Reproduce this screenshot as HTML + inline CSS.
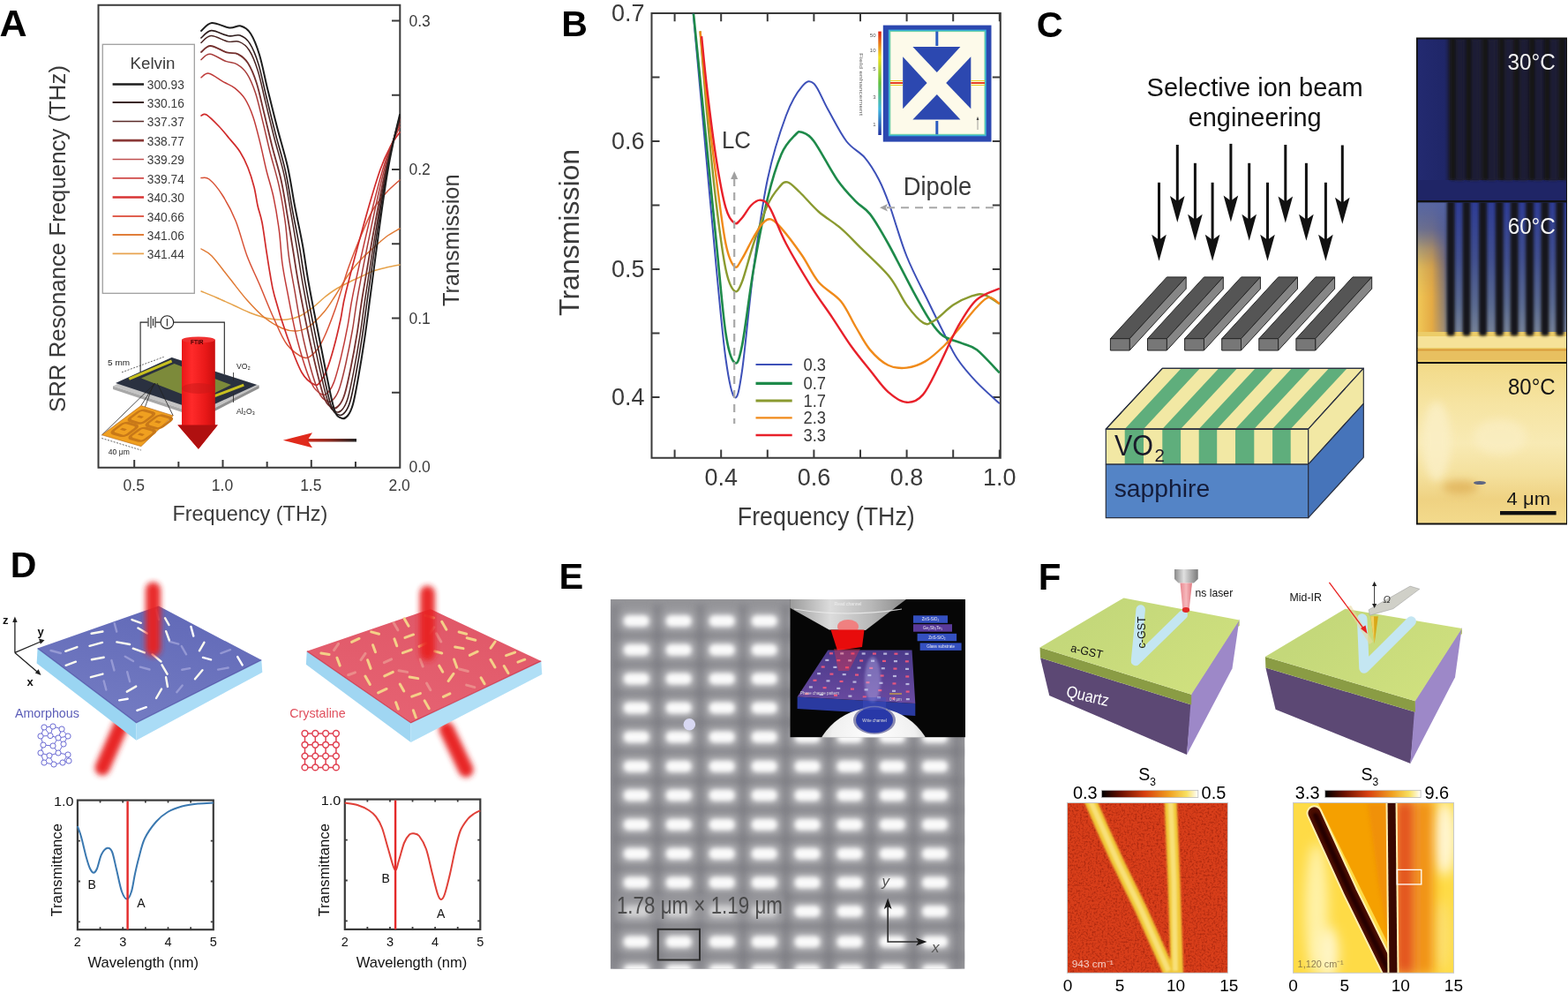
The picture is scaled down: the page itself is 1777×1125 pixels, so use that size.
<!DOCTYPE html><html><head><meta charset="utf-8"><title>Figure</title>
<style>html,body{margin:0;padding:0;background:#fff;}svg{display:block;}text{font-family:"Liberation Sans", Arial, Helvetica, sans-serif;}</style></head><body>
<svg width="1777" height="1125" viewBox="0 0 1777 1125">
<rect width="1777" height="1125" fill="#fff"/>
<text x="-0.5" y="41.2" font-size="43" fill="#000" font-weight="bold" >A</text>
<g stroke="#3a3a3a" stroke-width="2" fill="none">
<path d="M111.5,5.8 H453.3 V529.8 H111.5 Z"/>
<path d="M152.2,529.8 V521"/>
<path d="M202.35,529.8 V523"/>
<path d="M252.5,529.8 V521"/>
<path d="M302.65,529.8 V523"/>
<path d="M352.8,529.8 V521"/>
<path d="M402.95,529.8 V523"/>
<path d="M453.3,444.75 H444"/>
<path d="M453.3,360.5 H444"/>
<path d="M453.3,276.25 H444"/>
<path d="M453.3,192 H444"/>
<path d="M453.3,107.75 H444"/>
<path d="M453.3,23.5 H444"/>
</g>
<text x="151.7" y="556.3" font-size="17.5" fill="#3a3a3a" text-anchor="middle" >0.5</text>
<text x="252" y="556.3" font-size="17.5" fill="#3a3a3a" text-anchor="middle" >1.0</text>
<text x="352.3" y="556.3" font-size="17.5" fill="#3a3a3a" text-anchor="middle" >1.5</text>
<text x="452.6" y="556.3" font-size="17.5" fill="#3a3a3a" text-anchor="middle" >2.0</text>
<text x="463.5" y="535.3" font-size="17.5" fill="#3a3a3a" >0.0</text>
<text x="463.5" y="366.8" font-size="17.5" fill="#3a3a3a" >0.1</text>
<text x="463.5" y="198.3" font-size="17.5" fill="#3a3a3a" >0.2</text>
<text x="463.5" y="29.8" font-size="17.5" fill="#3a3a3a" >0.3</text>
<text x="195.4" y="590.2" font-size="24" fill="#3a3a3a" textLength="176" lengthAdjust="spacingAndGlyphs" >Frequency (THz)</text>
<text transform="translate(74,467) rotate(-90)" font-size="25.5" fill="#3a3a3a" textLength="393" lengthAdjust="spacingAndGlyphs">SRR Resonance Frequency (THz)</text>
<text transform="translate(519.5,347) rotate(-90)" font-size="25" fill="#3a3a3a" textLength="149.5" lengthAdjust="spacingAndGlyphs">Transmission</text>
<rect x="116.3" y="50.3" width="104" height="282" fill="#fff" stroke="#a0a0a0" stroke-width="1.3"/>
<text x="147.5" y="78.3" font-size="17.5" fill="#3a3a3a" textLength="51" lengthAdjust="spacingAndGlyphs" >Kelvin</text>
<path d="M127.6,95.5 H163" stroke="#1e1e1e" stroke-width="2.4"/>
<text x="166.8" y="101.1" font-size="15" fill="#3a3a3a" textLength="42" lengthAdjust="spacingAndGlyphs" >300.93</text>
<path d="M127.6,116.1 H163" stroke="#3a1f1e" stroke-width="2"/>
<text x="166.8" y="121.7" font-size="15" fill="#3a3a3a" textLength="42" lengthAdjust="spacingAndGlyphs" >330.16</text>
<path d="M127.6,137.5 H163" stroke="#5a2a28" stroke-width="1.6"/>
<text x="166.8" y="143.1" font-size="15" fill="#3a3a3a" textLength="42" lengthAdjust="spacingAndGlyphs" >337.37</text>
<path d="M127.6,159.1 H163" stroke="#8a3836" stroke-width="2.6"/>
<text x="166.8" y="164.7" font-size="15" fill="#3a3a3a" textLength="42" lengthAdjust="spacingAndGlyphs" >338.77</text>
<path d="M127.6,180.5 H163" stroke="#c05050" stroke-width="1.6"/>
<text x="166.8" y="186.1" font-size="15" fill="#3a3a3a" textLength="42" lengthAdjust="spacingAndGlyphs" >339.29</text>
<path d="M127.6,201.9 H163" stroke="#d04a48" stroke-width="1.8"/>
<text x="166.8" y="207.5" font-size="15" fill="#3a3a3a" textLength="42" lengthAdjust="spacingAndGlyphs" >339.74</text>
<path d="M127.6,223.5 H163" stroke="#d83434" stroke-width="2.6"/>
<text x="166.8" y="229.1" font-size="15" fill="#3a3a3a" textLength="42" lengthAdjust="spacingAndGlyphs" >340.30</text>
<path d="M127.6,245 H163" stroke="#e06050" stroke-width="2"/>
<text x="166.8" y="250.6" font-size="15" fill="#3a3a3a" textLength="42" lengthAdjust="spacingAndGlyphs" >340.66</text>
<path d="M127.6,266 H163" stroke="#e07e3a" stroke-width="1.8"/>
<text x="166.8" y="271.6" font-size="15" fill="#3a3a3a" textLength="42" lengthAdjust="spacingAndGlyphs" >341.06</text>
<path d="M127.6,287.4 H163" stroke="#e8a450" stroke-width="1.6"/>
<text x="166.8" y="293" font-size="15" fill="#3a3a3a" textLength="42" lengthAdjust="spacingAndGlyphs" >341.44</text>
<g fill="none" stroke-linejoin="round" stroke-linecap="round">
<path d="M228,330 C230.83,331.17 238.83,334.33 245,337 C251.17,339.67 258.33,343 265,346 C271.67,349 278.33,352.5 285,355 C291.67,357.5 298.33,359.83 305,361 C311.67,362.17 319.17,362.5 325,362 C330.83,361.5 335,360.33 340,358 C345,355.67 350.4,351.5 355,348 C359.6,344.5 363.43,340.33 367.6,337 C371.77,333.67 375.43,330.83 380,328 C384.57,325.17 390,322.5 395,320 C400,317.5 405.33,315.17 410,313 C414.67,310.83 418.33,308.67 423,307 C427.67,305.33 433,304.17 438,303 C443,301.83 450.5,300.5 453,300" stroke="#e6a24a" stroke-width="1.5"/>
<path d="M228,282 C230,283.33 234.67,284.5 240,290 C245.33,295.5 253.33,306.67 260,315 C266.67,323.33 273.33,332.5 280,340 C286.67,347.5 293.33,354.67 300,360 C306.67,365.33 314,369.5 320,372 C326,374.5 331,375.33 336,375 C341,374.67 344.73,373.67 350,370 C355.27,366.33 362.6,358.83 367.6,353 C372.6,347.17 375.43,342 380,335 C384.57,328 390,318 395,311 C400,304 405.33,298 410,293 C414.67,288 418.33,285.17 423,281 C427.67,276.83 433,271.67 438,268 C443,264.33 450.5,260.5 453,259" stroke="#e07a34" stroke-width="1.5"/>
<path d="M228,201.6 C229.5,201.83 233,199.77 237,203 C241,206.23 247,213.17 252,221 C257,228.83 262.33,238.5 267,250 C271.67,261.5 275.5,278 280,290 C284.5,302 289,310.33 294,322 C299,333.67 304.83,348.67 310,360 C315.17,371.33 319.33,382.5 325,390 C330.67,397.5 338.83,403.33 344,405 C349.17,406.67 352.33,403.33 356,400 C359.67,396.67 362,393.33 366,385 C370,376.67 375.17,363.67 380,350 C384.83,336.33 390,317.17 395,303 C400,288.83 405.33,276 410,265 C414.67,254 418.33,244.83 423,237 C427.67,229.17 433,223.5 438,218 C443,212.5 450.5,206.33 453,204" stroke="#d85236" stroke-width="1.5"/>
<path d="M228,131 C229,130.83 230.67,128 234,130 C237.33,132 243.67,138.5 248,143 C252.33,147.5 256,152.17 260,157 C264,161.83 268.5,166.5 272,172 C275.5,177.5 278.33,183.33 281,190 C283.67,196.67 286.17,204.83 288,212 C289.83,219.17 290.5,226.33 292,233 C293.5,239.67 295.33,243.33 297,252 C298.67,260.67 300.5,275.33 302,285 C303.5,294.67 304.5,301.67 306,310 C307.5,318.33 307.83,323.33 311,335 C314.17,346.67 319.83,365.5 325,380 C330.17,394.5 336.67,412.67 342,422 C347.33,431.33 353.33,434.5 357,436 C360.67,437.5 361.83,433.67 364,431 C366.17,428.33 367.67,426 370,420 C372.33,414 375.33,404.67 378,395 C380.67,385.33 383.67,372.67 386,362 C388.33,351.33 387.33,350 392,331 C396.67,312 407.5,271.17 414,248 C420.5,224.83 426.17,205.83 431,192 C435.83,178.17 439.33,172 443,165 C446.67,158 451.33,152.5 453,150" stroke="#d02a2a" stroke-width="1.7"/>
<path d="M228,87.8 C229.45,87.03 232.47,82.36 236.7,83.2 C240.93,84.04 248.54,90.09 253.4,92.83 C258.26,95.56 261.85,96.48 265.85,99.62 C269.85,102.77 273.9,106.24 277.4,111.7 C280.9,117.16 283.96,124.08 286.85,132.4 C289.74,140.72 292.24,151.51 294.75,161.6 C297.26,171.69 299.35,182.61 301.9,192.95 C304.45,203.29 307.63,212.21 310.05,223.65 C312.47,235.09 314.76,249.21 316.4,261.6 C318.04,273.99 318.34,286.58 319.88,298 C321.41,309.42 322.82,315.76 325.62,330.12 C328.43,344.49 332.17,366.94 336.7,384.2 C341.23,401.46 347.93,423.18 352.8,433.7 C357.67,444.22 362.57,445.76 365.94,447.31 C369.31,448.86 370.82,445.65 373,443 C375.18,440.35 376.77,437.75 379,431.4 C381.23,425.05 383.88,415.32 386.4,404.9 C388.92,394.48 391.77,381.12 394.1,368.9 C396.43,356.68 396.23,351.65 400.4,331.6 C404.57,311.55 413.6,271.67 419.1,248.6 C424.6,225.53 429.27,207.38 433.4,193.2 C437.53,179.02 440.63,171.7 443.9,163.5 C447.17,155.3 451.48,147.25 453,144" stroke="#c03a38" stroke-width="1.5"/>
<path d="M228,67.64 C229.66,66.59 233.31,61.06 237.96,61.36 C242.61,61.66 250.82,67.5 255.92,69.41 C261.02,71.32 264.58,70.49 268.58,72.85 C272.58,75.21 276.42,78.11 279.92,83.56 C283.42,89.01 286.58,96.43 289.58,105.52 C292.58,114.61 295.08,126.62 297.9,138.08 C300.72,149.54 303.48,162.2 306.52,174.26 C309.56,186.32 313.37,197.68 316.14,210.42 C318.91,223.16 321.23,237.18 323.12,250.68 C325.01,264.18 325.71,278.64 327.46,291.44 C329.21,304.24 330.78,311.53 333.62,327.46 C336.46,343.39 340.1,367.99 344.5,387 C348.9,406.01 355.43,430.19 360,441.5 C364.57,452.81 368.73,453.27 371.9,454.85 C375.07,456.43 376.82,453.64 379,451 C381.18,448.36 382.83,445.58 385,439 C387.17,432.42 389.58,422.42 392,411.5 C394.42,400.58 397.17,386.75 399.5,373.5 C401.83,360.25 402.17,352.75 406,332 C409.83,311.25 417.67,272 422.5,249 C427.33,226 431.33,208.42 435,194 C438.67,179.58 441.5,171.5 444.5,162.5 C447.5,153.5 451.58,143.75 453,140" stroke="#a83c3a" stroke-width="1.5"/>
<path d="M228,59 C229.75,57.83 233.67,51.94 238.5,52 C243.33,52.06 251.79,57.81 257,59.38 C262.21,60.94 265.75,59.35 269.75,61.38 C273.75,63.4 277.5,66.06 281,71.5 C284.5,76.94 287.71,84.58 290.75,94 C293.79,103.42 296.29,115.96 299.25,128 C302.21,140.04 305.25,153.46 308.5,166.25 C311.75,179.04 315.83,191.46 318.75,204.75 C321.67,218.04 323.69,232.3 326,246 C328.31,259.7 330.46,273.69 332.64,286.96 C334.82,300.23 335.87,308.52 339.08,325.64 C342.29,342.76 347.28,369.12 351.91,389.66 C356.54,410.21 362.56,436.85 366.84,448.91 C371.12,460.97 374.59,460.4 377.56,462.01 C380.54,463.63 382.51,461.23 384.7,458.6 C386.89,455.97 388.6,453.03 390.7,446.22 C392.8,439.42 395,429.16 397.32,417.77 C399.64,406.38 402.3,392.1 404.63,377.87 C406.96,363.64 407.8,353.8 411.32,332.38 C414.84,310.96 421.53,272.32 425.73,249.38 C429.93,226.44 433.3,209.4 436.52,194.76 C439.74,180.12 442.32,171.31 445.07,161.55 C447.82,151.79 451.68,140.42 453,136.2" stroke="#74302e" stroke-width="1.8"/>
<path d="M228,48.44 C229.86,47.13 234.11,40.78 239.16,40.56 C244.21,40.34 252.98,45.98 258.32,47.11 C263.66,48.24 267.18,45.74 271.18,47.35 C275.18,48.96 278.82,51.33 282.32,56.76 C285.82,62.19 289.08,70.1 292.18,79.92 C295.28,89.74 297.78,102.92 300.9,115.68 C304.02,128.44 307.41,142.77 310.92,156.46 C314.43,170.15 318.84,183.85 321.94,197.82 C325.04,211.79 327.03,226.04 329.52,240.28 C332.01,254.52 334.55,269.3 336.89,283.28 C339.24,297.26 340.28,306.13 343.56,324.14 C346.85,342.15 351.99,369.77 356.59,391.34 C361.19,412.91 367.07,441.06 371.16,453.59 C375.25,466.12 378.28,464.9 381.14,466.54 C383.99,468.17 386.11,466.03 388.3,463.4 C390.49,460.77 392.24,457.72 394.3,450.78 C396.36,443.83 398.42,433.42 400.68,421.73 C402.94,410.04 405.54,395.48 407.87,380.63 C410.2,365.78 411.36,354.45 414.68,332.62 C418,310.79 423.97,272.52 427.77,249.62 C431.57,226.72 434.54,210.02 437.48,195.24 C440.42,180.46 442.84,171.19 445.43,160.95 C448.02,150.71 451.74,138.33 453,133.8" stroke="#4a2422" stroke-width="1.5"/>
<path d="M228,42.97 C229.92,41.58 234.33,35 239.5,34.63 C244.67,34.26 253.6,39.85 259,40.75 C264.41,41.66 267.92,38.69 271.92,40.08 C275.92,41.48 279.5,43.7 283,49.12 C286.5,54.55 289.8,62.59 292.92,72.62 C296.05,82.65 298.55,96.17 301.75,109.3 C304.96,122.42 308.53,137.23 312.17,151.39 C315.81,165.54 320.4,179.91 323.59,194.23 C326.79,208.55 328.67,222.87 331.34,237.32 C334.01,251.77 337.1,266.62 339.61,280.93 C342.13,295.24 343.02,304.58 346.43,323.19 C349.85,341.8 355.44,370.28 360.1,392.6 C364.76,414.92 370.45,444.21 374.4,457.1 C378.35,469.99 381.05,468.28 383.82,469.93 C386.59,471.58 388.8,469.62 391,467 C393.2,464.38 394.97,461.25 397,454.2 C399.03,447.15 400.98,436.62 403.2,424.7 C405.42,412.78 407.97,398.02 410.3,382.7 C412.63,367.38 414.03,354.95 417.2,332.8 C420.37,310.65 425.8,272.67 429.3,249.8 C432.8,226.93 435.47,210.48 438.2,195.6 C440.93,180.72 443.23,171.1 445.7,160.5 C448.17,149.9 451.78,136.75 453,132" stroke="#2e1c1c" stroke-width="1.6"/>
<path d="M228,35 C230,33.5 234.67,26.58 240,26 C245.33,25.42 254.5,30.92 260,31.5 C265.5,32.08 269,28.42 273,29.5 C277,30.58 280.5,32.58 284,38 C287.5,43.42 290.83,51.67 294,62 C297.17,72.33 299.67,86.33 303,100 C306.33,113.67 310.17,129.17 314,144 C317.83,158.83 322.67,174.17 326,189 C329.33,203.83 331.17,218.17 334,233 C336.83,247.83 340.33,263.17 343,278 C345.67,292.83 346.5,302.67 350,322 C353.5,341.33 359.33,370.83 364,394 C368.67,417.17 374.2,447.72 378,461 C381.8,474.28 384.13,472.03 386.8,473.7 C389.47,475.37 391.8,473.62 394,471 C396.2,468.38 398,465.17 400,458 C402,450.83 403.83,440.17 406,428 C408.17,415.83 410.67,400.83 413,385 C415.33,369.17 417,355.5 420,333 C423,310.5 427.83,272.83 431,250 C434.17,227.17 436.5,211 439,196 C441.5,181 443.67,171 446,160 C448.33,149 451.83,135 453,130" stroke="#1e1e1e" stroke-width="2"/>
</g>
<defs><linearGradient id="ga" x1="0" x2="1"><stop offset="0" stop-color="#d02a1c"/><stop offset="0.5" stop-color="#8a2a20"/><stop offset="1" stop-color="#222"/></linearGradient></defs>
<path d="M345,496.9 H404 V500.6 H345 Z" fill="url(#ga)"/>
<path d="M320.8,498.7 L354,490.3 L348.5,498.7 L354,507.3 Z" fill="#e02a1c"/>
<g stroke="#222" stroke-width="1.1" fill="none">
<path d="M159.1,421.8 V365.1 H167.4 M176.5,365.1 H181.9 M196.9,365.1 H254.3 V439.2"/>
<path d="M168,360 V370 M171,358 V372 M173.5,361 V369 M176,359 V371"/>
<circle cx="189.4" cy="365.1" r="7.3"/>
<path d="M189.4,361 V369.5"/>
</g>
<polygon points="128,437.5 194.6,405 293.6,436.6 227.4,470.3" fill="#c4c4c4"/>
<polygon points="128,437.5 227.4,470.3 227.4,474 128,441" fill="#a8a8a8"/>
<polygon points="227.4,470.3 293.6,436.6 293.6,440 227.4,474" fill="#909090"/>
<polygon points="131,434 194.6,405 291,436 226.4,465.5" fill="#2a3140"/>
<polygon points="160,428.5 197.5,412 262,436 225.5,454" fill="#7c8a3a"/>
<path d="M146.3,429.4 L194.6,409 M227.9,454.3 L276.3,436.2" stroke="#c8c020" stroke-width="3"/>
<g stroke="#222" stroke-width="0.8"><path d="M176,434 L115.5,492.8 M176,434 L159.9,459.6 M178,434 L196.2,470.9 M174,435 L160,473"/></g>
<polygon points="115.5,492.8 159.9,459.6 196.2,470.9 159.9,505.7" fill="#f0a020" stroke="#b06010" stroke-width="0.6"/>
<g transform="matrix(44.4,-33.2,44.4,12.9,115.5,492.8)">
<rect x="0.12" y="0.1" width="0.36" height="0.36" rx="0.09" fill="none" stroke="#c87818" stroke-width="0.07"/>
<rect x="0.26" y="0.2" width="0.06" height="0.12" fill="#c87818"/>
<rect x="0.55" y="0.1" width="0.36" height="0.36" rx="0.09" fill="none" stroke="#c87818" stroke-width="0.07"/>
<rect x="0.69" y="0.2" width="0.06" height="0.12" fill="#c87818"/>
<rect x="0.12" y="0.55" width="0.36" height="0.36" rx="0.09" fill="none" stroke="#c87818" stroke-width="0.07"/>
<rect x="0.26" y="0.65" width="0.06" height="0.12" fill="#c87818"/>
<rect x="0.55" y="0.55" width="0.36" height="0.36" rx="0.09" fill="none" stroke="#c87818" stroke-width="0.07"/>
<rect x="0.69" y="0.65" width="0.06" height="0.12" fill="#c87818"/>
</g>
<defs><linearGradient id="gbeam" x1="0" x2="1"><stop offset="0" stop-color="#e01010"/><stop offset="0.35" stop-color="#ff2a2a"/><stop offset="0.7" stop-color="#e81818"/><stop offset="1" stop-color="#c00c0c"/></linearGradient></defs>
<path d="M206,385 V481.5 H201.4 L224.9,508.7 L246.8,481.5 H243.8 V385 Z" fill="url(#gbeam)"/>
<path d="M201.4,481.5 L224.9,508.7 L246.8,481.5 Z" fill="#b01010"/>
<ellipse cx="224.9" cy="385" rx="18.9" ry="3.5" fill="#f03030"/>
<ellipse cx="224.9" cy="440" rx="18.9" ry="6" fill="#c81818" opacity="0.5"/>
<text x="216" y="389.5" font-size="6.5" fill="#400" font-weight="bold" >FTIR</text>
<text x="122.1" y="413.5" font-size="8.5" fill="#222" textLength="25" lengthAdjust="spacingAndGlyphs" >5 mm</text>
<text x="122.8" y="514.8" font-size="8.5" fill="#222" textLength="24" lengthAdjust="spacingAndGlyphs" >40 μm</text>
<text x="268" y="418" font-size="8.5" fill="#222" textLength="15.8" lengthAdjust="spacingAndGlyphs" >VO₂</text>
<text x="268" y="469.4" font-size="8.5" fill="#222" textLength="21" lengthAdjust="spacingAndGlyphs" >Al₂O₃</text>
<path d="M264.5,422 V431 M264.5,446 V456" stroke="#222" stroke-width="0.8"/>
<path d="M138,421.8 L185.6,404.4 M115.3,496.5 L159.9,510" stroke="#222" stroke-width="0.7" stroke-dasharray="2,1.5"/>
<text x="636.3" y="40.8" font-size="41" fill="#000" font-weight="bold" >B</text>
<g stroke="#3a3a3a" stroke-width="2" fill="none">
<path d="M738.5,15 H1133.8 V518.7 H738.5 Z"/>
<path d="M817.2,518.7 V509.5 M817.2,15 V24.2"/>
<path d="M869.8,518.7 V509.5 M869.8,15 V24.2"/>
<path d="M922.4,518.7 V509.5 M922.4,15 V24.2"/>
<path d="M975,518.7 V509.5 M975,15 V24.2"/>
<path d="M1027.6,518.7 V509.5 M1027.6,15 V24.2"/>
<path d="M1080.2,518.7 V509.5 M1080.2,15 V24.2"/>
<path d="M1132.8,518.7 V509.5 M1132.8,15 V24.2"/>
<path d="M764.6,518.7 V509.5 M764.6,15 V24.2"/>
<path d="M738.5,450 H747.5 M1133.8,450 H1124.8"/>
<path d="M738.5,377.5 H747.5 M1133.8,377.5 H1124.8"/>
<path d="M738.5,305 H747.5 M1133.8,305 H1124.8"/>
<path d="M738.5,232.5 H747.5 M1133.8,232.5 H1124.8"/>
<path d="M738.5,160 H747.5 M1133.8,160 H1124.8"/>
<path d="M738.5,87.5 H747.5 M1133.8,87.5 H1124.8"/>
</g>
<text x="730.5" y="458.6" font-size="27.5" fill="#3a3a3a" text-anchor="end" textLength="37.5" lengthAdjust="spacingAndGlyphs" >0.4</text>
<text x="730.5" y="313.6" font-size="27.5" fill="#3a3a3a" text-anchor="end" textLength="37.5" lengthAdjust="spacingAndGlyphs" >0.5</text>
<text x="730.5" y="168.6" font-size="27.5" fill="#3a3a3a" text-anchor="end" textLength="37.5" lengthAdjust="spacingAndGlyphs" >0.6</text>
<text x="730.5" y="23.6" font-size="27.5" fill="#3a3a3a" text-anchor="end" textLength="37.5" lengthAdjust="spacingAndGlyphs" >0.7</text>
<text x="817.2" y="549.6" font-size="27.5" fill="#3a3a3a" text-anchor="middle" textLength="37.5" lengthAdjust="spacingAndGlyphs" >0.4</text>
<text x="922.4" y="549.6" font-size="27.5" fill="#3a3a3a" text-anchor="middle" textLength="37.5" lengthAdjust="spacingAndGlyphs" >0.6</text>
<text x="1027.6" y="549.6" font-size="27.5" fill="#3a3a3a" text-anchor="middle" textLength="37.5" lengthAdjust="spacingAndGlyphs" >0.8</text>
<text x="1132.8" y="549.6" font-size="27.5" fill="#3a3a3a" text-anchor="middle" textLength="37.5" lengthAdjust="spacingAndGlyphs" >1.0</text>
<text x="835.8" y="595.4" font-size="29" fill="#3a3a3a" textLength="201" lengthAdjust="spacingAndGlyphs" >Frequency (THz)</text>
<text transform="translate(656.4,357.9) rotate(-90)" font-size="31" fill="#3a3a3a" textLength="189" lengthAdjust="spacingAndGlyphs">Transmission</text>
<defs><clipPath id="cb"><rect x="739" y="15.5" width="394" height="503"/></clipPath></defs>
<g fill="none" stroke-linejoin="round" clip-path="url(#cb)">
<path d="M783.01,-14 C785.2,10.17 791.34,77.83 796.16,131 C800.98,184.17 807.56,259.08 811.94,305 C816.32,350.92 819.04,382.33 822.46,406.5 C825.88,430.67 829.39,447.58 832.45,450 C835.52,452.42 837.28,445.17 840.87,421 C844.46,396.83 849.2,341.25 854.02,305 C858.84,268.75 863.66,232.5 869.8,203.5 C875.94,174.5 884.27,148.64 890.84,131 C897.41,113.36 903.99,103.69 909.25,97.65 C914.51,91.61 917.58,90.4 922.4,94.75 C927.22,99.1 932.04,112.87 938.18,123.75 C944.32,134.62 952.21,150.82 959.22,160 C966.23,169.18 974.12,171.6 980.26,178.85 C986.4,186.1 991.39,194.56 996.04,203.5 C1000.69,212.44 1002.88,218 1008.14,232.5 C1013.4,247 1020.32,272.37 1027.6,290.5 C1034.88,308.62 1044.78,326.75 1051.8,341.25 C1058.81,355.75 1064.16,366.62 1069.68,377.5 C1075.2,388.37 1078.8,397.32 1084.93,406.5 C1091.07,415.68 1098.52,424.14 1106.5,432.6 C1114.48,441.06 1128.42,453.14 1132.8,457.25" stroke="#3d50b8" stroke-width="2"/>
<path d="M783.01,-14 C785.2,7.75 791.34,68.17 796.16,116.5 C800.98,164.83 807.56,232.5 811.94,276 C816.32,319.5 819.04,355.02 822.46,377.5 C825.88,399.97 829.39,408.43 832.45,410.85 C835.52,413.27 837.28,409.64 840.87,392 C844.46,374.36 849.2,332.79 854.02,305 C858.84,277.21 864.54,247 869.8,225.25 C875.06,203.5 880.32,186.58 885.58,174.5 C890.84,162.42 897.5,156.86 901.36,152.75 C905.22,148.64 905.22,148.64 908.72,149.85 C912.23,151.06 915.74,151.06 922.4,160 C929.06,168.94 940.81,192.14 948.7,203.5 C956.59,214.86 963.52,221.62 969.74,228.15 C975.96,234.67 979.91,234.67 986.05,242.65 C992.18,250.62 998.32,261.26 1006.56,276 C1014.8,290.74 1027.6,316.6 1035.49,331.1 C1043.38,345.6 1048.38,354.78 1053.9,363 C1059.42,371.22 1062.49,376.05 1068.63,380.4 C1074.76,384.75 1084.32,386.44 1090.72,389.1 C1097.12,391.76 1100.01,390.79 1107.03,396.35 C1114.04,401.91 1128.5,418.1 1132.8,422.45" stroke="#1e8a4a" stroke-width="2.6"/>
<path d="M793.53,35.3 C794.85,51.25 798.35,98.13 801.42,131 C804.49,163.87 808.43,203.5 811.94,232.5 C815.45,261.5 819.04,288.81 822.46,305 C825.88,321.19 829.39,327.23 832.45,329.65 C835.52,332.07 837.28,328.44 840.87,319.5 C844.46,310.56 849.2,290.5 854.02,276 C858.84,261.5 864.98,243.13 869.8,232.5 C874.62,221.87 879.18,216.55 882.95,212.2 C886.72,207.85 888.47,205.43 892.42,206.4 C896.36,207.37 900.75,212.44 906.62,218 C912.49,223.56 919.95,232.98 927.66,239.75 C935.37,246.52 945.02,251.83 952.91,258.6 C960.8,265.37 965.79,271.17 975,280.35 C984.21,289.53 999.37,302.82 1008.14,313.7 C1016.9,324.57 1021.2,336.9 1027.6,345.6 C1034,354.3 1041.28,363 1046.54,365.9 C1051.8,368.8 1053.55,366.38 1059.16,363 C1064.77,359.62 1073.19,350.19 1080.2,345.6 C1087.21,341.01 1095.37,337.38 1101.24,335.45 C1107.11,333.52 1110.18,332.55 1115.44,334 C1120.7,335.45 1129.91,342.46 1132.8,344.15" stroke="#8a9a30" stroke-width="2.4"/>
<path d="M793.53,35.3 C794.85,48.83 798.35,88.47 801.42,116.5 C804.49,144.53 808.43,176.92 811.94,203.5 C815.45,230.08 819.04,259.57 822.46,276 C825.88,292.43 829.39,299.2 832.45,302.1 C835.52,305 837.28,298.96 840.87,293.4 C844.46,287.84 850.07,275.52 854.02,268.75 C857.97,261.98 861.3,256.18 864.54,252.8 C867.78,249.42 869.98,247.48 873.48,248.45 C876.99,249.42 879.71,251.83 885.58,258.6 C891.45,265.37 901.71,278.9 908.72,289.05 C915.74,299.2 920.3,310.8 927.66,319.5 C935.02,328.2 945.89,332.79 952.91,341.25 C959.92,349.71 964.22,361.07 969.74,370.25 C975.26,379.43 979.91,389.1 986.05,396.35 C992.18,403.6 999.63,410.37 1006.56,413.75 C1013.49,417.13 1020.59,417.38 1027.6,416.65 C1034.61,415.92 1041.63,413.51 1048.64,409.4 C1055.65,405.29 1063.63,397.8 1069.68,392 C1075.73,386.2 1078.8,381.85 1084.93,374.6 C1091.07,367.35 1100.54,354.78 1106.5,348.5 C1112.46,342.22 1116.32,337.62 1120.7,336.9 C1125.09,336.17 1130.78,342.94 1132.8,344.15" stroke="#f08a1a" stroke-width="2.4"/>
<path d="M795.11,41.1 C796.16,51.25 798.61,78.56 801.42,102 C804.23,125.44 808.43,159.52 811.94,181.75 C815.45,203.98 819.04,223.56 822.46,235.4 C825.88,247.24 829.39,250.87 832.45,252.8 C835.52,254.73 837.71,250.38 840.87,247 C844.03,243.62 847.88,235.88 851.39,232.5 C854.9,229.12 858.4,226.22 861.91,226.7 C865.42,227.18 867.61,227.18 872.43,235.4 C877.25,243.62 882.95,261.02 890.84,276 C898.73,290.98 911,311.28 919.77,325.3 C928.54,339.32 935.99,348.98 943.44,360.1 C950.89,371.22 957.38,382.09 964.48,392 C971.58,401.91 979.03,410.85 986.05,419.55 C993.06,428.25 999.63,438.16 1006.56,444.2 C1013.49,450.24 1021.03,455.32 1027.6,455.8 C1034.18,456.28 1039.87,454.11 1046.01,447.1 C1052.15,440.09 1057.85,426.56 1064.42,413.75 C1071,400.94 1078.45,382.57 1085.46,370.25 C1092.47,357.92 1098.61,347.05 1106.5,339.8 C1114.39,332.55 1128.42,328.92 1132.8,326.75" stroke="#e8202a" stroke-width="2.4"/>
</g>
<path d="M832.2,202 V480" stroke="#a8a8a8" stroke-width="2.2" stroke-dasharray="9,7" fill="none"/>
<path d="M828.2,203 L832.2,194 L836.2,203 Z" fill="#a0a0a0"/>
<text x="817.9" y="168" font-size="27.5" fill="#3a3a3a" textLength="33" lengthAdjust="spacingAndGlyphs" >LC</text>
<path d="M1005,235.2 H1133" stroke="#a8a8a8" stroke-width="2" stroke-dasharray="9,7" fill="none"/>
<path d="M997,235.2 L1006,231 L1004,235.2 L1006,239.4 Z" fill="#a0a0a0"/>
<text x="1023.7" y="220.8" font-size="29.5" fill="#3a3a3a" textLength="77.5" lengthAdjust="spacingAndGlyphs" >Dipole</text>
<path d="M856.5,413 H897.7" stroke="#3d50b8" stroke-width="2"/>
<text x="910.5" y="419.8" font-size="21" fill="#3a3a3a" textLength="25.5" lengthAdjust="spacingAndGlyphs" >0.3</text>
<path d="M856.5,434.4 H897.7" stroke="#1e8a4a" stroke-width="3.2"/>
<text x="910.5" y="441.2" font-size="21" fill="#3a3a3a" textLength="25.5" lengthAdjust="spacingAndGlyphs" >0.7</text>
<path d="M856.5,454 H897.7" stroke="#8a9a30" stroke-width="2.8"/>
<text x="910.5" y="460.8" font-size="21" fill="#3a3a3a" textLength="25.5" lengthAdjust="spacingAndGlyphs" >1.7</text>
<path d="M856.5,473.4 H897.7" stroke="#f08a1a" stroke-width="2.4"/>
<text x="910.5" y="480.2" font-size="21" fill="#3a3a3a" textLength="25.5" lengthAdjust="spacingAndGlyphs" >2.3</text>
<path d="M856.5,493 H897.7" stroke="#e8202a" stroke-width="2.4"/>
<text x="910.5" y="499.8" font-size="21" fill="#3a3a3a" textLength="25.5" lengthAdjust="spacingAndGlyphs" >3.3</text>
<rect x="1000.8" y="28.6" width="122.7" height="132" fill="#2c48b0"/>
<rect x="1006.8" y="33.6" width="111" height="120.7" fill="#3ab0d8"/>
<rect x="1008.8" y="35.6" width="107.2" height="116.7" fill="#fdfaea" stroke="#6ad0a0" stroke-width="1"/>
<path d="M1061.8,35.6 V52 M1061.8,137 V152.3" stroke="#2c5cc0" stroke-width="3"/>
<polygon points="1034.4,53 1088.4,53 1061.8,82.1" fill="#2c48b0"/>
<polygon points="1034.4,135.6 1088.4,135.6 1061.8,107" fill="#2c48b0"/>
<polygon points="1023.2,64.2 1023.2,123.2 1050.6,94.1" fill="#2c48b0"/>
<polygon points="1100.3,64.2 1100.3,123.2 1072.2,94.1" fill="#2c48b0"/>
<path d="M1009,94 H1023 M1100.5,94 H1116" stroke="#e84020" stroke-width="2"/>
<path d="M1009,91.5 H1023 M1009,96.5 H1023 M1100.5,91.5 H1116 M1100.5,96.5 H1116" stroke="#e8d020" stroke-width="1"/>
<path d="M1108,147 V134" stroke="#888" stroke-width="0.8"/><path d="M1106.6,136 L1108,132 L1109.4,136 Z" fill="#444"/>
<defs><linearGradient id="gcb" x1="0" y1="0" x2="0" y2="1"><stop offset="0" stop-color="#e02010"/><stop offset="0.25" stop-color="#f0e020"/><stop offset="0.5" stop-color="#60c040"/><stop offset="0.75" stop-color="#40b8e0"/><stop offset="1" stop-color="#2030a0"/></linearGradient></defs>
<rect x="995.3" y="35.6" width="3.5" height="117.4" fill="url(#gcb)"/>
<text x="992.5" y="41.5" font-size="6" fill="#555" text-anchor="end" >50</text>
<text x="992.5" y="58.5" font-size="6" fill="#555" text-anchor="end" >10</text>
<text x="992.5" y="80" font-size="6" fill="#555" text-anchor="end" >5</text>
<text x="992.5" y="112" font-size="6" fill="#555" text-anchor="end" >3</text>
<text x="992.5" y="143" font-size="6" fill="#555" text-anchor="end" >1</text>
<text transform="translate(974,60) rotate(90)" font-size="5.5" fill="#666" textLength="71" lengthAdjust="spacingAndGlyphs">Field enhancement</text>
<text x="1174.8" y="41.5" font-size="41.5" fill="#000" font-weight="bold" >C</text>
<text x="1299.6" y="108.5" font-size="29" fill="#111" textLength="245" lengthAdjust="spacingAndGlyphs" >Selective ion beam</text>
<text x="1422.2" y="143.2" font-size="29" fill="#111" text-anchor="middle" textLength="151" lengthAdjust="spacingAndGlyphs" >engineering</text>
<g fill="#111">
<rect x="1312" y="206.8" width="3" height="69"/>
<polygon points="1305.2,265.8 1313.5,271.8 1321.8,265.8 1313.5,295.8"/>
<rect x="1332.8" y="164" width="3" height="67.9"/>
<polygon points="1326,221.9 1334.3,227.9 1342.6,221.9 1334.3,251.9"/>
<rect x="1352.9" y="184.8" width="3" height="67.9"/>
<polygon points="1346.1,242.7 1354.4,248.7 1362.7,242.7 1354.4,272.7"/>
<rect x="1372.6" y="206.8" width="3" height="69"/>
<polygon points="1365.8,265.8 1374.1,271.8 1382.4,265.8 1374.1,295.8"/>
<rect x="1393.4" y="162.9" width="3" height="68.5"/>
<polygon points="1386.6,221.4 1394.9,227.4 1403.2,221.4 1394.9,251.4"/>
<rect x="1414.2" y="184.8" width="3" height="67.9"/>
<polygon points="1407.4,242.7 1415.7,248.7 1424,242.7 1415.7,272.7"/>
<rect x="1435" y="206.8" width="3" height="69"/>
<polygon points="1428.2,265.8 1436.5,271.8 1444.8,265.8 1436.5,295.8"/>
<rect x="1455.3" y="164" width="3" height="68.6"/>
<polygon points="1448.5,222.6 1456.8,228.6 1465.1,222.6 1456.8,252.6"/>
<rect x="1478.9" y="184.8" width="3" height="67.9"/>
<polygon points="1472.1,242.7 1480.4,248.7 1488.7,242.7 1480.4,272.7"/>
<rect x="1500.9" y="206.8" width="3" height="69"/>
<polygon points="1494.1,265.8 1502.4,271.8 1510.7,265.8 1502.4,295.8"/>
<rect x="1519.8" y="164.5" width="3" height="69.2"/>
<polygon points="1513,223.7 1521.3,229.7 1529.6,223.7 1521.3,253.7"/>
</g>
<g stroke="#262626" stroke-width="1" stroke-linejoin="round">
<polygon points="1258.4,383.7 1280.2,383.7 1344.2,313.9 1322.4,313.9" fill="#555"/>
<polygon points="1280.2,383.7 1280.2,397 1344.2,327.2 1344.2,313.9" fill="#868686"/>
<rect x="1258.4" y="383.7" width="21.8" height="13.3" fill="#777"/>
<polygon points="1300.5,383.7 1322.3,383.7 1386.3,313.9 1364.5,313.9" fill="#555"/>
<polygon points="1322.3,383.7 1322.3,397 1386.3,327.2 1386.3,313.9" fill="#868686"/>
<rect x="1300.5" y="383.7" width="21.8" height="13.3" fill="#777"/>
<polygon points="1342.6,383.7 1364.4,383.7 1428.4,313.9 1406.6,313.9" fill="#555"/>
<polygon points="1364.4,383.7 1364.4,397 1428.4,327.2 1428.4,313.9" fill="#868686"/>
<rect x="1342.6" y="383.7" width="21.8" height="13.3" fill="#777"/>
<polygon points="1384.7,383.7 1406.5,383.7 1470.5,313.9 1448.7,313.9" fill="#555"/>
<polygon points="1406.5,383.7 1406.5,397 1470.5,327.2 1470.5,313.9" fill="#868686"/>
<rect x="1384.7" y="383.7" width="21.8" height="13.3" fill="#777"/>
<polygon points="1426.8,383.7 1448.6,383.7 1512.6,313.9 1490.8,313.9" fill="#555"/>
<polygon points="1448.6,383.7 1448.6,397 1512.6,327.2 1512.6,313.9" fill="#868686"/>
<rect x="1426.8" y="383.7" width="21.8" height="13.3" fill="#777"/>
<polygon points="1468.9,383.7 1490.7,383.7 1554.7,313.9 1532.9,313.9" fill="#555"/>
<polygon points="1490.7,383.7 1490.7,397 1554.7,327.2 1554.7,313.9" fill="#868686"/>
<rect x="1468.9" y="383.7" width="21.8" height="13.3" fill="#777"/>
</g>
<g stroke="#2a3040" stroke-width="1.2" stroke-linejoin="round">
<polygon points="1253.3,486.1 1482.7,486.1 1545.3,417.3 1317.3,417.3" fill="#f2e8a4"/>
</g>
<rect x="1253.3" y="486.1" width="229.4" height="40" fill="#f2e8a4"/>
<g fill="#5fae7c">
<polygon points="1274.7,486.1 1296,486.1 1360,417.3 1338.7,417.3"/>
<rect x="1274.7" y="486.1" width="21.3" height="40"/>
<polygon points="1317.3,486.1 1338.1,486.1 1402.1,417.3 1381.3,417.3"/>
<rect x="1317.3" y="486.1" width="20.8" height="40"/>
<polygon points="1358.7,486.1 1379.2,486.1 1443.2,417.3 1422.7,417.3"/>
<rect x="1358.7" y="486.1" width="20.5" height="40"/>
<polygon points="1400,486.1 1421.3,486.1 1485.3,417.3 1464,417.3"/>
<rect x="1400" y="486.1" width="21.3" height="40"/>
<polygon points="1442.1,486.1 1462.7,486.1 1526.7,417.3 1506.1,417.3"/>
<rect x="1442.1" y="486.1" width="20.6" height="40"/>
</g>
<g stroke="#2a3040" stroke-width="1.2" stroke-linejoin="round" fill="none">
<polygon points="1253.3,486.1 1482.7,486.1 1545.3,417.3 1317.3,417.3"/>
</g>
<g stroke="#2a3040" stroke-width="1.2" stroke-linejoin="round">
<rect x="1253.3" y="486.1" width="229.4" height="40" fill="none"/>
<polygon points="1482.7,486.1 1482.7,526.1 1545.3,457.3 1545.3,417.3" fill="#f2e8a4"/>
<rect x="1253.3" y="526.1" width="229.4" height="60.6" fill="#5484c6"/>
<polygon points="1482.7,526.1 1482.7,586.7 1545.3,518.1 1545.3,457.3" fill="#4674ba"/>
</g>
<text x="1263" y="515.8" font-size="33" fill="#1a1a2a" textLength="44" lengthAdjust="spacingAndGlyphs" >VO</text>
<text x="1308.5" y="523" font-size="20.5" fill="#1a1a2a" >2</text>
<text x="1262.7" y="562.7" font-size="28" fill="#141c3a" textLength="108.5" lengthAdjust="spacingAndGlyphs" >sapphire</text>
<defs>
<linearGradient id="m60" x1="0" y1="0" x2="0" y2="1"><stop offset="0" stop-color="#2e3c94"/><stop offset="0.35" stop-color="#404e8e"/><stop offset="0.65" stop-color="#5a6a90"/><stop offset="0.85" stop-color="#7a8598"/><stop offset="0.95" stop-color="#b0a888"/></linearGradient>
<linearGradient id="m60l" x1="0" y1="0" x2="1" y2="0"><stop offset="0" stop-color="#f0c858"/><stop offset="0.45" stop-color="#e4aa44"/><stop offset="0.8" stop-color="#d8a048" stop-opacity="0.5"/><stop offset="1" stop-color="#d8a048" stop-opacity="0"/></linearGradient>
<linearGradient id="m60lm" x1="0" y1="0" x2="0" y2="1"><stop offset="0" stop-color="#fff" stop-opacity="0.08"/><stop offset="0.2" stop-color="#fff" stop-opacity="0.3"/><stop offset="0.35" stop-color="#fff" stop-opacity="0.7"/><stop offset="0.5" stop-color="#fff" stop-opacity="0.9"/><stop offset="0.7" stop-color="#fff" stop-opacity="1"/></linearGradient>
<mask id="mk60"><rect x="1600" y="229" width="50" height="152" fill="url(#m60lm)"/></mask>
<linearGradient id="m80" x1="0" y1="0" x2="0" y2="1"><stop offset="0" stop-color="#f2da88"/><stop offset="0.25" stop-color="#f6e4a2"/><stop offset="0.5" stop-color="#f8eab4"/><stop offset="0.7" stop-color="#f4e09c"/><stop offset="0.85" stop-color="#efd282"/><stop offset="1" stop-color="#f3da8c"/></linearGradient>
<linearGradient id="m30" x1="0" y1="0" x2="1" y2="0"><stop offset="0" stop-color="#232a70"/><stop offset="0.18" stop-color="#1f2668"/><stop offset="0.22" stop-color="#1c1c36"/><stop offset="1" stop-color="#1c1b2c"/></linearGradient>
<linearGradient id="m60g" x1="0" y1="0" x2="0" y2="1"><stop offset="0" stop-color="#6a7cae" stop-opacity="0.6"/><stop offset="1" stop-color="#6a7cae" stop-opacity="0"/></linearGradient>
<filter id="mbl6" filterUnits="userSpaceOnUse" x="1600" y="40" width="177" height="560"><feGaussianBlur stdDeviation="5"/></filter>
<filter id="mbl" filterUnits="userSpaceOnUse" x="1600" y="40" width="177" height="560"><feGaussianBlur stdDeviation="1.4"/></filter>
</defs>
<rect x="1605" y="42.5" width="171" height="552" fill="#111"/>
<rect x="1606.8" y="44.5" width="168.2" height="182.5" fill="url(#m30)"/>
<rect x="1606.8" y="204" width="168.2" height="23" fill="#1f2566"/>
<clipPath id="c30"><rect x="1606.8" y="44.5" width="168.2" height="182.5"/></clipPath>
<g clip-path="url(#c30)"><g filter="url(#mbl)">
<g fill="#1f1e34">
<rect x="1649.7" y="44.5" width="9" height="160" />
<rect x="1667.5" y="44.5" width="9" height="160" />
<rect x="1686.1" y="44.5" width="9" height="160" />
<rect x="1704.8" y="44.5" width="9" height="160" />
<rect x="1721.7" y="44.5" width="9" height="160" />
<rect x="1739.1" y="44.5" width="9" height="160" />
<rect x="1756.4" y="44.5" width="9" height="160" />
<rect x="1773.2" y="44.5" width="9" height="160" />
</g>
<g fill="#161512">
<rect x="1643.2" y="40" width="7" height="164" rx="3"/>
<rect x="1661" y="40" width="7" height="164" rx="3"/>
<rect x="1679.6" y="40" width="7" height="164" rx="3"/>
<rect x="1698.3" y="40" width="7" height="164" rx="3"/>
<rect x="1715.2" y="40" width="7" height="164" rx="3"/>
<rect x="1732.6" y="40" width="7" height="164" rx="3"/>
<rect x="1749.9" y="40" width="7" height="164" rx="3"/>
<rect x="1766.7" y="40" width="7" height="164" rx="3"/>
</g>
</g></g>
<text x="1708.6" y="79.1" font-size="26.7" fill="#f0f0f0" textLength="54.2" lengthAdjust="spacingAndGlyphs" >30°C</text>
<rect x="1606.8" y="229.5" width="168.2" height="180" fill="url(#m60)"/>
<rect x="1606.8" y="229.5" width="36" height="152" fill="url(#m60l)" mask="url(#mk60)"/>
<rect x="1606.8" y="229.5" width="34" height="70" fill="url(#m60g)"/>
<rect x="1606.8" y="376" width="168.2" height="34" fill="#eccc68"/>
<rect x="1606.8" y="381" width="168.2" height="13" fill="#f6e298"/>
<rect x="1606.8" y="395.5" width="168.2" height="2" fill="#d89838"/>
<rect x="1606.8" y="398" width="168.2" height="10" fill="#e8c060"/>
<clipPath id="c60"><rect x="1606.8" y="229.5" width="168.2" height="180"/></clipPath>
<g clip-path="url(#c60)"><g fill="#18171f" filter="url(#mbl)">
<rect x="1639.7" y="225" width="9" height="155.5" rx="3"/>
<rect x="1657.5" y="225" width="9" height="155.5" rx="3"/>
<rect x="1676.1" y="225" width="9" height="155.5" rx="3"/>
<rect x="1694.8" y="225" width="9" height="155.5" rx="3"/>
<rect x="1711.7" y="225" width="9" height="155.5" rx="3"/>
<rect x="1729.1" y="225" width="9" height="155.5" rx="3"/>
<rect x="1746.4" y="225" width="9" height="155.5" rx="3"/>
<rect x="1763.2" y="225" width="9" height="155.5" rx="3"/>
</g></g>
<text x="1708.7" y="265.3" font-size="26.7" fill="#f4f4f4" textLength="54.1" lengthAdjust="spacingAndGlyphs" >60°C</text>
<rect x="1606.8" y="412" width="168.2" height="180.5" fill="url(#m80)"/>
<ellipse cx="1628" cy="500" rx="16" ry="45" fill="#fbf0c8" opacity="0.8" filter="url(#mbl6)"/>
<ellipse cx="1700" cy="495" rx="30" ry="20" fill="#fbf0c8" opacity="0.6" filter="url(#mbl6)"/>
<ellipse cx="1655" cy="552" rx="20" ry="8" fill="#d8a040" opacity="0.55" filter="url(#mbl6)"/>
<ellipse cx="1677" cy="547" rx="7" ry="2" fill="#3a4a80" opacity="0.8"/>
<text x="1709" y="446.7" font-size="26" fill="#161616" textLength="53.6" lengthAdjust="spacingAndGlyphs" >80°C</text>
<text x="1707.6" y="571.7" font-size="21" fill="#161616" textLength="49.4" lengthAdjust="spacingAndGlyphs" >4 μm</text>
<rect x="1700" y="579" width="63.6" height="4.4" fill="#111"/>
<text x="11.8" y="653.7" font-size="41" fill="#000" font-weight="bold" >D</text>
<defs><filter id="blur4" filterUnits="userSpaceOnUse" x="0" y="600" width="700" height="320"><feGaussianBlur stdDeviation="3.2"/></filter><filter id="blur2" filterUnits="userSpaceOnUse" x="0" y="600" width="1777" height="525"><feGaussianBlur stdDeviation="1.6"/></filter></defs>
<path d="M137,822 L116,870" stroke="#e82828" stroke-width="17" stroke-linecap="round" filter="url(#blur4)"/>
<polygon points="42.6,734.4 154.5,818.7 154.5,838.7 41.6,751.4" fill="#9ad5f2"/>
<polygon points="154.5,818.7 296.3,747.8 297.3,761.8 154.5,838.7" fill="#aadcf6"/>
<defs><linearGradient id="gpb" gradientUnits="userSpaceOnUse" x1="179.7" y1="686.6" x2="154.5" y2="818.7"><stop offset="0" stop-color="#626ab8"/><stop offset="1" stop-color="#737bc2"/></linearGradient></defs>
<polygon points="42.6,734.4 179.7,686.6 296.3,747.8 154.5,818.7" fill="url(#gpb)"/>
<path d="M42.6,734.4 L154.5,818.7 L296.3,747.8" stroke="#3a3a9a" stroke-opacity="0.6" stroke-width="1.2" fill="none"/>
<path d="M57.51,736.98 L68.86,740.02" stroke="#b8b8e8" stroke-opacity="0.55" stroke-width="2.4" stroke-linecap="round"/>
<path d="M117.65,771.46 L120.34,781.52" stroke="#b8b8e8" stroke-opacity="0.55" stroke-width="2.4" stroke-linecap="round"/>
<path d="M135.14,793.38 L144.69,791.7" stroke="#ffffff" stroke-opacity="1.0" stroke-width="2.4" stroke-linecap="round"/>
<path d="M155.41,804.91 L165.76,801.15" stroke="#ffffff" stroke-opacity="1.0" stroke-width="2.4" stroke-linecap="round"/>
<path d="M126.4,748.07 L129.45,759.43" stroke="#b8b8e8" stroke-opacity="0.55" stroke-width="2.4" stroke-linecap="round"/>
<path d="M144.17,761.17 L147.12,772.19" stroke="#b8b8e8" stroke-opacity="0.55" stroke-width="2.4" stroke-linecap="round"/>
<path d="M141.76,743.69 L151.04,749.05" stroke="#b8b8e8" stroke-opacity="0.55" stroke-width="2.4" stroke-linecap="round"/>
<path d="M158.86,755.67 L169.53,758.53" stroke="#b8b8e8" stroke-opacity="0.55" stroke-width="2.4" stroke-linecap="round"/>
<path d="M200.32,784.19 L206.73,776.55" stroke="#b8b8e8" stroke-opacity="0.55" stroke-width="2.4" stroke-linecap="round"/>
<path d="M129.75,706.26 L132.24,715.57" stroke="#b8b8e8" stroke-opacity="0.55" stroke-width="2.4" stroke-linecap="round"/>
<path d="M206.25,758.76 L215.17,757.19" stroke="#b8b8e8" stroke-opacity="0.55" stroke-width="2.4" stroke-linecap="round"/>
<path d="M192.17,726.84 L202.33,729.56" stroke="#b8b8e8" stroke-opacity="0.55" stroke-width="2.4" stroke-linecap="round"/>
<path d="M205.77,732.13 L211.07,741.32" stroke="#b8b8e8" stroke-opacity="0.55" stroke-width="2.4" stroke-linecap="round"/>
<path d="M229.95,744.88 L239.1,747.34" stroke="#ffffff" stroke-opacity="1.0" stroke-width="2.4" stroke-linecap="round"/>
<path d="M247.11,758.58 L258.62,756.55" stroke="#b8b8e8" stroke-opacity="0.55" stroke-width="2.4" stroke-linecap="round"/>
<path d="M176.82,690.94 L179.82,702.14" stroke="#b8b8e8" stroke-opacity="0.55" stroke-width="2.4" stroke-linecap="round"/>
<path d="M216.41,709.87 L219.3,720.65" stroke="#ffffff" stroke-opacity="1.0" stroke-width="2.4" stroke-linecap="round"/>
<path d="M250.37,740.08 L261.05,736.19" stroke="#b8b8e8" stroke-opacity="0.55" stroke-width="2.4" stroke-linecap="round"/>
<path d="M269.21,744.04 L274.66,753.47" stroke="#ffffff" stroke-opacity="1.0" stroke-width="2.4" stroke-linecap="round"/>
<path d="M74.23,737.81 L87.39,733.02" stroke="#fbfbf0" stroke-opacity="1.0" stroke-width="2.4" stroke-linecap="round"/>
<path d="M101.51,731.81 L116,727.92" stroke="#fbfbf0" stroke-opacity="1.0" stroke-width="2.4" stroke-linecap="round"/>
<path d="M132.33,727.39 L147.1,729.99" stroke="#fbfbf0" stroke-opacity="1.0" stroke-width="2.4" stroke-linecap="round"/>
<path d="M150.76,734.62 L163.92,739.41" stroke="#fbfbf0" stroke-opacity="1.0" stroke-width="2.4" stroke-linecap="round"/>
<path d="M172.56,741.16 L182.52,749.52" stroke="#fbfbf0" stroke-opacity="1.0" stroke-width="2.4" stroke-linecap="round"/>
<path d="M183.56,753.32 L189.56,763.71" stroke="#fbfbf0" stroke-opacity="1.0" stroke-width="2.4" stroke-linecap="round"/>
<path d="M188.05,767.09 L189.96,777.93" stroke="#fbfbf0" stroke-opacity="1.0" stroke-width="2.4" stroke-linecap="round"/>
<path d="M177.04,791.02 L183.04,780.63" stroke="#fbfbf0" stroke-opacity="1.0" stroke-width="2.4" stroke-linecap="round"/>
<path d="M143.81,783.62 L154.2,777.62" stroke="#fbfbf0" stroke-opacity="1.0" stroke-width="2.4" stroke-linecap="round"/>
<path d="M102.9,767.16 L116.42,763.54" stroke="#fbfbf0" stroke-opacity="1.0" stroke-width="2.4" stroke-linecap="round"/>
<path d="M74.62,753.78 L85.89,749.67" stroke="#fbfbf0" stroke-opacity="1.0" stroke-width="2.4" stroke-linecap="round"/>
<path d="M103.9,747.22 L117.69,744.79" stroke="#fbfbf0" stroke-opacity="1.0" stroke-width="2.4" stroke-linecap="round"/>
<path d="M156.41,711.57 L166.8,717.57" stroke="#fbfbf0" stroke-opacity="1.0" stroke-width="2.4" stroke-linecap="round"/>
<path d="M188.1,715.15 L191.87,725.48" stroke="#fbfbf0" stroke-opacity="1.0" stroke-width="2.4" stroke-linecap="round"/>
<path d="M225.92,737.33 L231.42,727.81" stroke="#fbfbf0" stroke-opacity="1.0" stroke-width="2.4" stroke-linecap="round"/>
<path d="M221.02,769.22 L229.37,759.27" stroke="#fbfbf0" stroke-opacity="1.0" stroke-width="2.4" stroke-linecap="round"/>
<path d="M149.49,702.03 L159.83,705.79" stroke="#fbfbf0" stroke-opacity="1.0" stroke-width="2.4" stroke-linecap="round"/>
<path d="M103.59,717.71 L116.4,715.46" stroke="#fbfbf0" stroke-opacity="1.0" stroke-width="2.4" stroke-linecap="round"/>
<path d="M186.97,700.18 L191.47,707.98" stroke="#fbfbf0" stroke-opacity="1.0" stroke-width="2.4" stroke-linecap="round"/>
<path d="M173.5,668 L173.5,735" stroke="#e82424" stroke-width="17" stroke-linecap="round" filter="url(#blur4)" opacity="0.95"/>
<g stroke="#222" stroke-width="1.3" fill="none"><path d="M16.9,739.4 V703 M16.9,739.4 L46,727 M16.9,739.4 L42,761"/></g>
<g fill="#222"><polygon points="14.2,705 16.9,698.5 19.6,705"/><polygon points="44,723.5 50.5,725.3 45.8,729.8"/><polygon points="39.8,762.5 46.5,765 43.6,758.2"/></g>
<text x="3" y="706.5" font-size="13" fill="#111" font-weight="bold" >z</text>
<text x="42.5" y="719.5" font-size="13" fill="#111" font-weight="bold" >y</text>
<text x="30.5" y="776.5" font-size="13" fill="#111" font-weight="bold" >x</text>
<text x="16.9" y="812.8" font-size="14.2" fill="#5b5db8" textLength="73" lengthAdjust="spacingAndGlyphs" >Amorphous</text>
<g stroke="#6c6cd4" stroke-width="1" fill="#fff">
<path d="M50,824 L60,823"/>
<path d="M50,824 L46,834"/>
<path d="M50,824 L57,833.5"/>
<path d="M60,823 L70,826"/>
<path d="M60,823 L57,833.5"/>
<path d="M70,826 L77,834"/>
<path d="M70,826 L66,836"/>
<path d="M46,834 L49,844"/>
<path d="M46,834 L57,833.5"/>
<path d="M57,833.5 L66,836"/>
<path d="M66,836 L72,843"/>
<path d="M77,834 L72,843"/>
<path d="M77,834 L66,836"/>
<path d="M49,844 L46,853"/>
<path d="M49,844 L60,845"/>
<path d="M60,845 L66,853"/>
<path d="M60,845 L66,836"/>
<path d="M72,843 L66,853"/>
<path d="M46,853 L56,856"/>
<path d="M46,853 L50,864"/>
<path d="M56,856 L50,864"/>
<path d="M56,856 L66,853"/>
<path d="M66,853 L77,855"/>
<path d="M77,855 L78,862"/>
<path d="M77,855 L71,864"/>
<path d="M50,864 L61,866"/>
<path d="M61,866 L71,864"/>
<path d="M61,866 L56,856"/>
<path d="M71,864 L78,862"/>
<circle cx="50" cy="824" r="3.1"/>
<circle cx="60" cy="823" r="3.1"/>
<circle cx="70" cy="826" r="3.1"/>
<circle cx="46" cy="834" r="3.1"/>
<circle cx="57" cy="833.5" r="3.1"/>
<circle cx="66" cy="836" r="3.1"/>
<circle cx="77" cy="834" r="3.1"/>
<circle cx="49" cy="844" r="3.1"/>
<circle cx="60" cy="845" r="3.1"/>
<circle cx="72" cy="843" r="3.1"/>
<circle cx="46" cy="853" r="3.1"/>
<circle cx="56" cy="856" r="3.1"/>
<circle cx="66" cy="853" r="3.1"/>
<circle cx="77" cy="855" r="3.1"/>
<circle cx="50" cy="864" r="3.1"/>
<circle cx="61" cy="866" r="3.1"/>
<circle cx="71" cy="864" r="3.1"/>
<circle cx="78" cy="862" r="3.1"/>
</g>
<path d="M506,826 L528,872" stroke="#e82828" stroke-width="17" stroke-linecap="round" filter="url(#blur4)"/>
<polygon points="347.8,737.8 465.6,818.9 465.6,840.9 346.8,752.8" fill="#a0d6f2"/>
<polygon points="465.6,818.9 613.3,748.9 614.3,763.9 465.6,840.9" fill="#b0dff6"/>
<defs><linearGradient id="gpr" gradientUnits="userSpaceOnUse" x1="487.8" y1="690" x2="465.6" y2="818.9"><stop offset="0" stop-color="#e05868"/><stop offset="1" stop-color="#e66272"/></linearGradient></defs>
<polygon points="347.8,737.8 487.8,690 613.3,748.9 465.6,818.9" fill="url(#gpr)"/>
<path d="M347.8,737.8 L465.6,818.9 L613.3,748.9" stroke="#c01830" stroke-opacity="0.6" stroke-width="1.2" fill="none"/>
<path d="M363.87,739.93 L373.12,741.56" stroke="#f4d088" stroke-opacity="1.0" stroke-width="3" stroke-linecap="round"/>
<path d="M381.94,745.22 L385.17,754.08" stroke="#f4d088" stroke-opacity="1.0" stroke-width="3" stroke-linecap="round"/>
<path d="M394.68,764.74 L402.45,761.91" stroke="#f0b0a0" stroke-opacity="0.55" stroke-width="3" stroke-linecap="round"/>
<path d="M413.9,766.06 L419.34,775.5" stroke="#f4d088" stroke-opacity="1.0" stroke-width="3" stroke-linecap="round"/>
<path d="M428.6,784.9 L438.11,780.47" stroke="#f4d088" stroke-opacity="1.0" stroke-width="3" stroke-linecap="round"/>
<path d="M448.61,795.68 L451.37,803.28" stroke="#f4d088" stroke-opacity="1.0" stroke-width="3" stroke-linecap="round"/>
<path d="M468.36,804.74 L471.34,812.92" stroke="#f4d088" stroke-opacity="1.0" stroke-width="3" stroke-linecap="round"/>
<path d="M378.48,736.56 L383.54,729.32" stroke="#f0b0a0" stroke-opacity="0.55" stroke-width="3" stroke-linecap="round"/>
<path d="M409.03,747.62 L414.06,740.44" stroke="#f0b0a0" stroke-opacity="0.55" stroke-width="3" stroke-linecap="round"/>
<path d="M416.6,747.69 L420.12,757.37" stroke="#f4d088" stroke-opacity="1.0" stroke-width="3" stroke-linecap="round"/>
<path d="M435.75,765.88 L445.3,761.42" stroke="#f4d088" stroke-opacity="1.0" stroke-width="3" stroke-linecap="round"/>
<path d="M453.21,775.08 L457.77,782.98" stroke="#f4d088" stroke-opacity="1.0" stroke-width="3" stroke-linecap="round"/>
<path d="M466.72,789.12 L476.43,785.58" stroke="#f4d088" stroke-opacity="1.0" stroke-width="3" stroke-linecap="round"/>
<path d="M481.12,793.87 L486.26,802.77" stroke="#f4d088" stroke-opacity="1.0" stroke-width="3" stroke-linecap="round"/>
<path d="M398.57,727.42 L407.08,723.45" stroke="#f4d088" stroke-opacity="1.0" stroke-width="3" stroke-linecap="round"/>
<path d="M422.55,730.71 L425.48,738.77" stroke="#f4d088" stroke-opacity="1.0" stroke-width="3" stroke-linecap="round"/>
<path d="M435.32,750.72 L443.64,746.84" stroke="#f0b0a0" stroke-opacity="0.55" stroke-width="3" stroke-linecap="round"/>
<path d="M451.99,759.68 L461.62,761.37" stroke="#f0b0a0" stroke-opacity="0.55" stroke-width="3" stroke-linecap="round"/>
<path d="M464.1,766.93 L473.76,768.64" stroke="#f4d088" stroke-opacity="1.0" stroke-width="3" stroke-linecap="round"/>
<path d="M483.49,774.04 L487.87,781.64" stroke="#f0b0a0" stroke-opacity="0.55" stroke-width="3" stroke-linecap="round"/>
<path d="M502.42,789.39 L509.87,785.92" stroke="#f4d088" stroke-opacity="1.0" stroke-width="3" stroke-linecap="round"/>
<path d="M420.74,715.88 L429.55,718.24" stroke="#f4d088" stroke-opacity="1.0" stroke-width="3" stroke-linecap="round"/>
<path d="M446.91,723.83 L449.79,731.73" stroke="#f4d088" stroke-opacity="1.0" stroke-width="3" stroke-linecap="round"/>
<path d="M456.39,739.67 L466.21,736.09" stroke="#f4d088" stroke-opacity="1.0" stroke-width="3" stroke-linecap="round"/>
<path d="M476.22,746.97 L479.16,755.04" stroke="#f0b0a0" stroke-opacity="0.55" stroke-width="3" stroke-linecap="round"/>
<path d="M497.7,754.18 L501.77,761.24" stroke="#f4d088" stroke-opacity="1.0" stroke-width="3" stroke-linecap="round"/>
<path d="M508.11,771.57 L513.91,763.28" stroke="#f4d088" stroke-opacity="1.0" stroke-width="3" stroke-linecap="round"/>
<path d="M528.66,776.14 L537.9,778.61" stroke="#f0b0a0" stroke-opacity="0.55" stroke-width="3" stroke-linecap="round"/>
<path d="M446.07,705.46 L450.91,713.85" stroke="#f0b0a0" stroke-opacity="0.55" stroke-width="3" stroke-linecap="round"/>
<path d="M458.94,722.44 L468.57,718.93" stroke="#f4d088" stroke-opacity="1.0" stroke-width="3" stroke-linecap="round"/>
<path d="M475.11,732.38 L482.84,728.77" stroke="#f4d088" stroke-opacity="1.0" stroke-width="3" stroke-linecap="round"/>
<path d="M492.61,737.83 L500.74,740.01" stroke="#f4d088" stroke-opacity="1.0" stroke-width="3" stroke-linecap="round"/>
<path d="M514.52,747 L517.86,756.17" stroke="#f4d088" stroke-opacity="1.0" stroke-width="3" stroke-linecap="round"/>
<path d="M520.63,757.94 L530.39,760.55" stroke="#f0b0a0" stroke-opacity="0.55" stroke-width="3" stroke-linecap="round"/>
<path d="M545.04,767.71 L549.14,774.81" stroke="#f4d088" stroke-opacity="1.0" stroke-width="3" stroke-linecap="round"/>
<path d="M458.26,700.88 L463.08,709.22" stroke="#f4d088" stroke-opacity="1.0" stroke-width="3" stroke-linecap="round"/>
<path d="M487,717.62 L491.81,710.75" stroke="#f0b0a0" stroke-opacity="0.55" stroke-width="3" stroke-linecap="round"/>
<path d="M494.46,717.78 L499.81,727.05" stroke="#f0b0a0" stroke-opacity="0.55" stroke-width="3" stroke-linecap="round"/>
<path d="M515.67,732.99 L525.02,734.64" stroke="#f4d088" stroke-opacity="1.0" stroke-width="3" stroke-linecap="round"/>
<path d="M532.3,742.35 L541.2,738.2" stroke="#f4d088" stroke-opacity="1.0" stroke-width="3" stroke-linecap="round"/>
<path d="M555.91,747.2 L561,756.02" stroke="#f4d088" stroke-opacity="1.0" stroke-width="3" stroke-linecap="round"/>
<path d="M571.23,754.48 L575.92,762.61" stroke="#f4d088" stroke-opacity="1.0" stroke-width="3" stroke-linecap="round"/>
<path d="M482.12,697.41 L491.59,699.94" stroke="#f4d088" stroke-opacity="1.0" stroke-width="3" stroke-linecap="round"/>
<path d="M500.68,704.27 L505.85,713.23" stroke="#f4d088" stroke-opacity="1.0" stroke-width="3" stroke-linecap="round"/>
<path d="M520.11,716 L528.71,718.31" stroke="#f4d088" stroke-opacity="1.0" stroke-width="3" stroke-linecap="round"/>
<path d="M529.18,722.71 L538.82,725.29" stroke="#f4d088" stroke-opacity="1.0" stroke-width="3" stroke-linecap="round"/>
<path d="M556.12,734.16 L561.14,726.99" stroke="#f4d088" stroke-opacity="1.0" stroke-width="3" stroke-linecap="round"/>
<path d="M573.58,742.71 L583.58,739.07" stroke="#f4d088" stroke-opacity="1.0" stroke-width="3" stroke-linecap="round"/>
<path d="M586.9,750.08 L594.8,747.2" stroke="#f4d088" stroke-opacity="1.0" stroke-width="3" stroke-linecap="round"/>
<path d="M484.4,672 L484.4,740" stroke="#e82424" stroke-width="17" stroke-linecap="round" filter="url(#blur4)" opacity="0.95"/>
<text x="328.2" y="813.3" font-size="14.2" fill="#e0505e" textLength="63.6" lengthAdjust="spacingAndGlyphs" >Crystaline</text>
<g stroke="#e04050" stroke-width="1.5" fill="#fff">
<path d="M345.5,831 H380.9"/>
<path d="M345.5,843.8 H380.9"/>
<path d="M345.5,856.6 H380.9"/>
<path d="M345.5,869.4 H380.9"/>
<path d="M345.5,831 V869.4"/>
<path d="M357.3,831 V869.4"/>
<path d="M369.1,831 V869.4"/>
<path d="M380.9,831 V869.4"/>
<circle cx="345.5" cy="831" r="3.4"/>
<circle cx="345.5" cy="843.8" r="3.4"/>
<circle cx="345.5" cy="856.6" r="3.4"/>
<circle cx="345.5" cy="869.4" r="3.4"/>
<circle cx="357.3" cy="831" r="3.4"/>
<circle cx="357.3" cy="843.8" r="3.4"/>
<circle cx="357.3" cy="856.6" r="3.4"/>
<circle cx="357.3" cy="869.4" r="3.4"/>
<circle cx="369.1" cy="831" r="3.4"/>
<circle cx="369.1" cy="843.8" r="3.4"/>
<circle cx="369.1" cy="856.6" r="3.4"/>
<circle cx="369.1" cy="869.4" r="3.4"/>
<circle cx="380.9" cy="831" r="3.4"/>
<circle cx="380.9" cy="843.8" r="3.4"/>
<circle cx="380.9" cy="856.6" r="3.4"/>
<circle cx="380.9" cy="869.4" r="3.4"/>
</g>
<g stroke="#3a3a3a" stroke-width="2.2" fill="none"><rect x="87.9" y="906.6" width="153.9" height="146.6"/></g>
<g stroke="#3a3a3a" stroke-width="1.8">
<path d="M113.55,1053.2 v-3 M113.55,906.6 v3"/>
<path d="M139.2,1053.2 v-3 M139.2,906.6 v3"/>
<path d="M164.85,1053.2 v-3 M164.85,906.6 v3"/>
<path d="M190.5,1053.2 v-3 M190.5,906.6 v3"/>
<path d="M216.15,1053.2 v-3 M216.15,906.6 v3"/>
<path d="M87.9,952.6 h3 M241.8,952.6 h-3"/>
<path d="M87.9,998.5 h3 M241.8,998.5 h-3"/>
<path d="M87.9,1044.4 h3 M241.8,1044.4 h-3"/>
</g>
<path d="M87.9,936 C88.58,938 90.32,942 92,948 C93.68,954 96.33,966 98,972 C99.67,978 100.65,981.22 102,984 C103.35,986.78 104.77,988.7 106.1,988.7 C107.43,988.7 108.52,987.45 110,984 C111.48,980.55 113.05,971.87 115,968 C116.95,964.13 119.7,961.3 121.7,960.8 C123.7,960.3 125.28,960.97 127,965 C128.72,969.03 130.17,977.5 132,985 C133.83,992.5 136,1004.4 138,1010 C140,1015.6 142.17,1018.6 144,1018.6 C145.83,1018.6 147.5,1014.77 149,1010 C150.5,1005.23 151.62,996.33 153,990 C154.38,983.67 155.47,978.67 157.3,972 C159.13,965.33 160.73,956.83 164,950 C167.27,943.17 172.57,936 176.9,931 C181.23,926 185.12,922.92 190,920 C194.88,917.08 200.37,915.08 206.2,913.5 C212.03,911.92 219.07,911.17 225,910.5 C230.93,909.83 239,909.67 241.8,909.5" stroke="#3a78b0" stroke-width="2" fill="none"/>
<path d="M144.6,907.6 V1053.2" stroke="#e42a2a" stroke-width="2.4"/>
<text x="83.4" y="913.1" font-size="14" fill="#111" text-anchor="end" textLength="22.5" lengthAdjust="spacingAndGlyphs" >1.0</text>
<text x="87.9" y="1071.8" font-size="14.5" fill="#111" text-anchor="middle" >2</text>
<text x="139.2" y="1071.8" font-size="14.5" fill="#111" text-anchor="middle" >3</text>
<text x="190.5" y="1071.8" font-size="14.5" fill="#111" text-anchor="middle" >4</text>
<text x="241.8" y="1071.8" font-size="14.5" fill="#111" text-anchor="middle" >5</text>
<text x="99.6" y="1096.3" font-size="16.2" fill="#111" textLength="125.5" lengthAdjust="spacingAndGlyphs" >Wavelength (nm)</text>
<text transform="translate(70.1,1038.6) rotate(-90)" font-size="16.4" fill="#111" textLength="105.6" lengthAdjust="spacingAndGlyphs">Transmittance</text>
<text x="99.6" y="1007.3" font-size="14" fill="#111" >B</text>
<text x="155.3" y="1027.8" font-size="14" fill="#111" >A</text>
<g stroke="#3a3a3a" stroke-width="2.2" fill="none"><rect x="390.8" y="905.6" width="153.5" height="147.3"/></g>
<g stroke="#3a3a3a" stroke-width="1.8">
<path d="M416.38,1052.9 v-3 M416.38,905.6 v3"/>
<path d="M441.97,1052.9 v-3 M441.97,905.6 v3"/>
<path d="M467.55,1052.9 v-3 M467.55,905.6 v3"/>
<path d="M493.13,1052.9 v-3 M493.13,905.6 v3"/>
<path d="M518.72,1052.9 v-3 M518.72,905.6 v3"/>
<path d="M390.8,951.6 h3 M544.3,951.6 h-3"/>
<path d="M390.8,997.5 h3 M544.3,997.5 h-3"/>
<path d="M390.8,1043.4 h3 M544.3,1043.4 h-3"/>
</g>
<path d="M390.8,909.5 C393.17,909.92 400.47,910.58 405,912 C409.53,913.42 414.5,915.8 418,918 C421.5,920.2 423.5,921.87 426,925.2 C428.5,928.53 430.67,931.87 433,938 C435.33,944.13 437.58,954.1 440,962 C442.42,969.9 445.5,983.23 447.5,985.4 C449.5,987.57 450.25,980.07 452,975 C453.75,969.93 456,959.92 458,955 C460,950.08 462.17,947.28 464,945.5 C465.83,943.72 467.17,944.05 469,944.3 C470.83,944.55 472.67,944.05 475,947 C477.33,949.95 480.5,954.83 483,962 C485.5,969.17 487.83,981.5 490,990 C492.17,998.5 494.35,1008.17 496,1013 C497.65,1017.83 498.57,1019 499.9,1019 C501.23,1019 502.32,1017.83 504,1013 C505.68,1008.17 508,998.5 510,990 C512,981.5 514.03,970.17 516,962 C517.97,953.83 519.47,946.67 521.8,941 C524.13,935.33 527.47,931.17 530,928 C532.53,924.83 534.62,923.62 537,922 C539.38,920.38 543.08,918.92 544.3,918.3" stroke="#e04038" stroke-width="2" fill="none"/>
<path d="M448.1,906.6 V1052.9" stroke="#e42a2a" stroke-width="2.4"/>
<text x="386.3" y="912.1" font-size="14" fill="#111" text-anchor="end" textLength="22.5" lengthAdjust="spacingAndGlyphs" >1.0</text>
<text x="390.8" y="1071.8" font-size="14.5" fill="#111" text-anchor="middle" >2</text>
<text x="441.97" y="1071.8" font-size="14.5" fill="#111" text-anchor="middle" >3</text>
<text x="493.13" y="1071.8" font-size="14.5" fill="#111" text-anchor="middle" >4</text>
<text x="544.3" y="1071.8" font-size="14.5" fill="#111" text-anchor="middle" >5</text>
<text x="403.8" y="1096.3" font-size="16.2" fill="#111" textLength="125.5" lengthAdjust="spacingAndGlyphs" >Wavelength (nm)</text>
<text transform="translate(373,1038.6) rotate(-90)" font-size="16.4" fill="#111" textLength="105.6" lengthAdjust="spacingAndGlyphs">Transmittance</text>
<text x="432.5" y="1000" font-size="14" fill="#111" >B</text>
<text x="495" y="1039.6" font-size="14" fill="#111" >A</text>
<text x="633.5" y="667.3" font-size="41.5" fill="#000" font-weight="bold" >E</text>
<defs><clipPath id="ce"><rect x="691.8" y="679" width="401.7" height="418.8"/></clipPath>
<filter id="eb1" filterUnits="userSpaceOnUse" x="680" y="670" width="430" height="440"><feGaussianBlur stdDeviation="2.6"/></filter>
<filter id="eb2" filterUnits="userSpaceOnUse" x="680" y="670" width="430" height="440"><feGaussianBlur stdDeviation="4"/></filter></defs>
<g clip-path="url(#ce)">
<rect x="691.8" y="679" width="401.7" height="418.8" fill="#949498"/>
<g filter="url(#eb2)" fill="#7c7c82">
<rect x="694.2" y="685" width="6" height="418.8"/>
<rect x="742.2" y="685" width="6" height="418.8"/>
<rect x="790.7" y="685" width="6" height="418.8"/>
<rect x="839.2" y="685" width="6" height="418.8"/>
<rect x="887.6" y="685" width="6" height="418.8"/>
<rect x="936" y="685" width="6" height="418.8"/>
<rect x="984.15" y="685" width="6" height="418.8"/>
<rect x="1032.4" y="685" width="6" height="418.8"/>
<rect x="1080.5" y="685" width="6" height="418.8"/>
<rect x="691.8" y="717.5" width="401.7" height="5"/>
<rect x="691.8" y="750.3" width="401.7" height="5"/>
<rect x="691.8" y="783" width="401.7" height="5"/>
<rect x="691.8" y="816" width="401.7" height="5"/>
<rect x="691.8" y="849" width="401.7" height="5"/>
<rect x="691.8" y="882.2" width="401.7" height="5"/>
<rect x="691.8" y="915" width="401.7" height="5"/>
<rect x="691.8" y="948.2" width="401.7" height="5"/>
<rect x="691.8" y="981.3" width="401.7" height="5"/>
<rect x="691.8" y="1014" width="401.7" height="5"/>
<rect x="691.8" y="1046.5" width="401.7" height="5"/>
<rect x="691.8" y="1081" width="401.7" height="5"/>
<rect x="691.8" y="1113.5" width="401.7" height="5"/>
</g>
<g filter="url(#eb2)" fill="#acacb0">
<rect x="702.2" y="692.5" width="38" height="22" rx="9"/>
<rect x="750.2" y="692.5" width="38" height="22" rx="9"/>
<rect x="799.2" y="692.5" width="38" height="22" rx="9"/>
<rect x="847.2" y="692.5" width="38" height="22" rx="9"/>
<rect x="896" y="692.5" width="38" height="22" rx="9"/>
<rect x="944" y="692.5" width="38" height="22" rx="9"/>
<rect x="992.3" y="692.5" width="38" height="22" rx="9"/>
<rect x="1040.5" y="692.5" width="38" height="22" rx="9"/>
<rect x="702.2" y="725.3" width="38" height="22" rx="9"/>
<rect x="750.2" y="725.3" width="38" height="22" rx="9"/>
<rect x="799.2" y="725.3" width="38" height="22" rx="9"/>
<rect x="847.2" y="725.3" width="38" height="22" rx="9"/>
<rect x="896" y="725.3" width="38" height="22" rx="9"/>
<rect x="944" y="725.3" width="38" height="22" rx="9"/>
<rect x="992.3" y="725.3" width="38" height="22" rx="9"/>
<rect x="1040.5" y="725.3" width="38" height="22" rx="9"/>
<rect x="702.2" y="758" width="38" height="22" rx="9"/>
<rect x="750.2" y="758" width="38" height="22" rx="9"/>
<rect x="799.2" y="758" width="38" height="22" rx="9"/>
<rect x="847.2" y="758" width="38" height="22" rx="9"/>
<rect x="896" y="758" width="38" height="22" rx="9"/>
<rect x="944" y="758" width="38" height="22" rx="9"/>
<rect x="992.3" y="758" width="38" height="22" rx="9"/>
<rect x="1040.5" y="758" width="38" height="22" rx="9"/>
<rect x="702.2" y="791" width="38" height="22" rx="9"/>
<rect x="750.2" y="791" width="38" height="22" rx="9"/>
<rect x="799.2" y="791" width="38" height="22" rx="9"/>
<rect x="847.2" y="791" width="38" height="22" rx="9"/>
<rect x="896" y="791" width="38" height="22" rx="9"/>
<rect x="944" y="791" width="38" height="22" rx="9"/>
<rect x="992.3" y="791" width="38" height="22" rx="9"/>
<rect x="1040.5" y="791" width="38" height="22" rx="9"/>
<rect x="702.2" y="824" width="38" height="22" rx="9"/>
<rect x="750.2" y="824" width="38" height="22" rx="9"/>
<rect x="799.2" y="824" width="38" height="22" rx="9"/>
<rect x="847.2" y="824" width="38" height="22" rx="9"/>
<rect x="896" y="824" width="38" height="22" rx="9"/>
<rect x="944" y="824" width="38" height="22" rx="9"/>
<rect x="992.3" y="824" width="38" height="22" rx="9"/>
<rect x="1040.5" y="824" width="38" height="22" rx="9"/>
<rect x="702.2" y="857.2" width="38" height="22" rx="9"/>
<rect x="750.2" y="857.2" width="38" height="22" rx="9"/>
<rect x="799.2" y="857.2" width="38" height="22" rx="9"/>
<rect x="847.2" y="857.2" width="38" height="22" rx="9"/>
<rect x="896" y="857.2" width="38" height="22" rx="9"/>
<rect x="944" y="857.2" width="38" height="22" rx="9"/>
<rect x="992.3" y="857.2" width="38" height="22" rx="9"/>
<rect x="1040.5" y="857.2" width="38" height="22" rx="9"/>
<rect x="702.2" y="890" width="38" height="22" rx="9"/>
<rect x="750.2" y="890" width="38" height="22" rx="9"/>
<rect x="799.2" y="890" width="38" height="22" rx="9"/>
<rect x="847.2" y="890" width="38" height="22" rx="9"/>
<rect x="896" y="890" width="38" height="22" rx="9"/>
<rect x="944" y="890" width="38" height="22" rx="9"/>
<rect x="992.3" y="890" width="38" height="22" rx="9"/>
<rect x="1040.5" y="890" width="38" height="22" rx="9"/>
<rect x="702.2" y="923.2" width="38" height="22" rx="9"/>
<rect x="750.2" y="923.2" width="38" height="22" rx="9"/>
<rect x="799.2" y="923.2" width="38" height="22" rx="9"/>
<rect x="847.2" y="923.2" width="38" height="22" rx="9"/>
<rect x="896" y="923.2" width="38" height="22" rx="9"/>
<rect x="944" y="923.2" width="38" height="22" rx="9"/>
<rect x="992.3" y="923.2" width="38" height="22" rx="9"/>
<rect x="1040.5" y="923.2" width="38" height="22" rx="9"/>
<rect x="702.2" y="956.3" width="38" height="22" rx="9"/>
<rect x="750.2" y="956.3" width="38" height="22" rx="9"/>
<rect x="799.2" y="956.3" width="38" height="22" rx="9"/>
<rect x="847.2" y="956.3" width="38" height="22" rx="9"/>
<rect x="896" y="956.3" width="38" height="22" rx="9"/>
<rect x="944" y="956.3" width="38" height="22" rx="9"/>
<rect x="992.3" y="956.3" width="38" height="22" rx="9"/>
<rect x="1040.5" y="956.3" width="38" height="22" rx="9"/>
<rect x="702.2" y="989" width="38" height="22" rx="9"/>
<rect x="750.2" y="989" width="38" height="22" rx="9"/>
<rect x="799.2" y="989" width="38" height="22" rx="9"/>
<rect x="847.2" y="989" width="38" height="22" rx="9"/>
<rect x="896" y="989" width="38" height="22" rx="9"/>
<rect x="944" y="989" width="38" height="22" rx="9"/>
<rect x="992.3" y="989" width="38" height="22" rx="9"/>
<rect x="1040.5" y="989" width="38" height="22" rx="9"/>
<rect x="702.2" y="1021.5" width="38" height="22" rx="9"/>
<rect x="750.2" y="1021.5" width="38" height="22" rx="9"/>
<rect x="799.2" y="1021.5" width="38" height="22" rx="9"/>
<rect x="847.2" y="1021.5" width="38" height="22" rx="9"/>
<rect x="896" y="1021.5" width="38" height="22" rx="9"/>
<rect x="944" y="1021.5" width="38" height="22" rx="9"/>
<rect x="992.3" y="1021.5" width="38" height="22" rx="9"/>
<rect x="1040.5" y="1021.5" width="38" height="22" rx="9"/>
<rect x="702.2" y="1056" width="38" height="22" rx="9"/>
<rect x="750.2" y="1056" width="38" height="22" rx="9"/>
<rect x="799.2" y="1056" width="38" height="22" rx="9"/>
<rect x="847.2" y="1056" width="38" height="22" rx="9"/>
<rect x="896" y="1056" width="38" height="22" rx="9"/>
<rect x="944" y="1056" width="38" height="22" rx="9"/>
<rect x="992.3" y="1056" width="38" height="22" rx="9"/>
<rect x="1040.5" y="1056" width="38" height="22" rx="9"/>
<rect x="702.2" y="1088.5" width="38" height="22" rx="9"/>
<rect x="750.2" y="1088.5" width="38" height="22" rx="9"/>
<rect x="799.2" y="1088.5" width="38" height="22" rx="9"/>
<rect x="847.2" y="1088.5" width="38" height="22" rx="9"/>
<rect x="896" y="1088.5" width="38" height="22" rx="9"/>
<rect x="944" y="1088.5" width="38" height="22" rx="9"/>
<rect x="992.3" y="1088.5" width="38" height="22" rx="9"/>
<rect x="1040.5" y="1088.5" width="38" height="22" rx="9"/>
</g>
<g filter="url(#eb1)" fill="#fafafa">
<rect x="706.7" y="697" width="29" height="13" rx="6"/>
<rect x="754.7" y="697" width="29" height="13" rx="6"/>
<rect x="803.7" y="697" width="29" height="13" rx="6"/>
<rect x="851.7" y="697" width="29" height="13" rx="6"/>
<rect x="900.5" y="697" width="29" height="13" rx="6"/>
<rect x="948.5" y="697" width="29" height="13" rx="6"/>
<rect x="996.8" y="697" width="29" height="13" rx="6"/>
<rect x="1045" y="697" width="29" height="13" rx="6"/>
<rect x="706.7" y="729.8" width="29" height="13" rx="6"/>
<rect x="754.7" y="729.8" width="29" height="13" rx="6"/>
<rect x="803.7" y="729.8" width="29" height="13" rx="6"/>
<rect x="851.7" y="729.8" width="29" height="13" rx="6"/>
<rect x="900.5" y="729.8" width="29" height="13" rx="6"/>
<rect x="948.5" y="729.8" width="29" height="13" rx="6"/>
<rect x="996.8" y="729.8" width="29" height="13" rx="6"/>
<rect x="1045" y="729.8" width="29" height="13" rx="6"/>
<rect x="706.7" y="762.5" width="29" height="13" rx="6"/>
<rect x="754.7" y="762.5" width="29" height="13" rx="6"/>
<rect x="803.7" y="762.5" width="29" height="13" rx="6"/>
<rect x="851.7" y="762.5" width="29" height="13" rx="6"/>
<rect x="900.5" y="762.5" width="29" height="13" rx="6"/>
<rect x="948.5" y="762.5" width="29" height="13" rx="6"/>
<rect x="996.8" y="762.5" width="29" height="13" rx="6"/>
<rect x="1045" y="762.5" width="29" height="13" rx="6"/>
<rect x="706.7" y="795.5" width="29" height="13" rx="6"/>
<rect x="754.7" y="795.5" width="29" height="13" rx="6"/>
<rect x="803.7" y="795.5" width="29" height="13" rx="6"/>
<rect x="851.7" y="795.5" width="29" height="13" rx="6"/>
<rect x="900.5" y="795.5" width="29" height="13" rx="6"/>
<rect x="948.5" y="795.5" width="29" height="13" rx="6"/>
<rect x="996.8" y="795.5" width="29" height="13" rx="6"/>
<rect x="1045" y="795.5" width="29" height="13" rx="6"/>
<rect x="706.7" y="828.5" width="29" height="13" rx="6"/>
<rect x="754.7" y="828.5" width="29" height="13" rx="6"/>
<rect x="803.7" y="828.5" width="29" height="13" rx="6"/>
<rect x="851.7" y="828.5" width="29" height="13" rx="6"/>
<rect x="900.5" y="828.5" width="29" height="13" rx="6"/>
<rect x="948.5" y="828.5" width="29" height="13" rx="6"/>
<rect x="996.8" y="828.5" width="29" height="13" rx="6"/>
<rect x="1045" y="828.5" width="29" height="13" rx="6"/>
<rect x="706.7" y="861.7" width="29" height="13" rx="6"/>
<rect x="754.7" y="861.7" width="29" height="13" rx="6"/>
<rect x="803.7" y="861.7" width="29" height="13" rx="6"/>
<rect x="851.7" y="861.7" width="29" height="13" rx="6"/>
<rect x="900.5" y="861.7" width="29" height="13" rx="6"/>
<rect x="948.5" y="861.7" width="29" height="13" rx="6"/>
<rect x="996.8" y="861.7" width="29" height="13" rx="6"/>
<rect x="1045" y="861.7" width="29" height="13" rx="6"/>
<rect x="706.7" y="894.5" width="29" height="13" rx="6"/>
<rect x="754.7" y="894.5" width="29" height="13" rx="6"/>
<rect x="803.7" y="894.5" width="29" height="13" rx="6"/>
<rect x="851.7" y="894.5" width="29" height="13" rx="6"/>
<rect x="900.5" y="894.5" width="29" height="13" rx="6"/>
<rect x="948.5" y="894.5" width="29" height="13" rx="6"/>
<rect x="996.8" y="894.5" width="29" height="13" rx="6"/>
<rect x="1045" y="894.5" width="29" height="13" rx="6"/>
<rect x="706.7" y="927.7" width="29" height="13" rx="6"/>
<rect x="754.7" y="927.7" width="29" height="13" rx="6"/>
<rect x="803.7" y="927.7" width="29" height="13" rx="6"/>
<rect x="851.7" y="927.7" width="29" height="13" rx="6"/>
<rect x="900.5" y="927.7" width="29" height="13" rx="6"/>
<rect x="948.5" y="927.7" width="29" height="13" rx="6"/>
<rect x="996.8" y="927.7" width="29" height="13" rx="6"/>
<rect x="1045" y="927.7" width="29" height="13" rx="6"/>
<rect x="706.7" y="960.8" width="29" height="13" rx="6"/>
<rect x="754.7" y="960.8" width="29" height="13" rx="6"/>
<rect x="803.7" y="960.8" width="29" height="13" rx="6"/>
<rect x="851.7" y="960.8" width="29" height="13" rx="6"/>
<rect x="900.5" y="960.8" width="29" height="13" rx="6"/>
<rect x="948.5" y="960.8" width="29" height="13" rx="6"/>
<rect x="996.8" y="960.8" width="29" height="13" rx="6"/>
<rect x="1045" y="960.8" width="29" height="13" rx="6"/>
<rect x="706.7" y="993.5" width="29" height="13" rx="6"/>
<rect x="754.7" y="993.5" width="29" height="13" rx="6"/>
<rect x="803.7" y="993.5" width="29" height="13" rx="6"/>
<rect x="851.7" y="993.5" width="29" height="13" rx="6"/>
<rect x="900.5" y="993.5" width="29" height="13" rx="6"/>
<rect x="948.5" y="993.5" width="29" height="13" rx="6"/>
<rect x="996.8" y="993.5" width="29" height="13" rx="6"/>
<rect x="1045" y="993.5" width="29" height="13" rx="6"/>
<rect x="706.7" y="1026" width="29" height="13" rx="6"/>
<rect x="754.7" y="1026" width="29" height="13" rx="6"/>
<rect x="803.7" y="1026" width="29" height="13" rx="6"/>
<rect x="851.7" y="1026" width="29" height="13" rx="6"/>
<rect x="900.5" y="1026" width="29" height="13" rx="6"/>
<rect x="948.5" y="1026" width="29" height="13" rx="6"/>
<rect x="996.8" y="1026" width="29" height="13" rx="6"/>
<rect x="1045" y="1026" width="29" height="13" rx="6"/>
<rect x="706.7" y="1060.5" width="29" height="13" rx="6"/>
<rect x="754.7" y="1060.5" width="29" height="13" rx="6"/>
<rect x="803.7" y="1060.5" width="29" height="13" rx="6"/>
<rect x="851.7" y="1060.5" width="29" height="13" rx="6"/>
<rect x="900.5" y="1060.5" width="29" height="13" rx="6"/>
<rect x="948.5" y="1060.5" width="29" height="13" rx="6"/>
<rect x="996.8" y="1060.5" width="29" height="13" rx="6"/>
<rect x="1045" y="1060.5" width="29" height="13" rx="6"/>
<rect x="706.7" y="1093" width="29" height="13" rx="6"/>
<rect x="754.7" y="1093" width="29" height="13" rx="6"/>
<rect x="803.7" y="1093" width="29" height="13" rx="6"/>
<rect x="851.7" y="1093" width="29" height="13" rx="6"/>
<rect x="900.5" y="1093" width="29" height="13" rx="6"/>
<rect x="948.5" y="1093" width="29" height="13" rx="6"/>
<rect x="996.8" y="1093" width="29" height="13" rx="6"/>
<rect x="1045" y="1093" width="29" height="13" rx="6"/>
</g>
</g>
<circle cx="781.3" cy="820.8" r="6.8" fill="#d8d8f2"/>
<rect x="697" y="1013" width="192" height="31" fill="#9c9ca0" opacity="0.45" filter="url(#eb1)"/>
<text x="698.9" y="1034.8" font-size="27" fill="#3c3c3c" textLength="188" lengthAdjust="spacingAndGlyphs" opacity="0.85">1.78 μm × 1.19 μm</text>
<rect x="745.7" y="1052.8" width="47.3" height="34.7" fill="none" stroke="#2e2e2e" stroke-width="2"/>
<path d="M1006.2,1026 V1067 H1042" stroke="#2a2a2a" stroke-width="1.6" fill="none"/>
<polygon points="1001.8,1030 1006.2,1017.5 1010.6,1030 1006.2,1027" fill="#1a1a1a"/>
<polygon points="1038,1062.6 1050.5,1067 1038,1071.4 1041,1067" fill="#1a1a1a"/>
<text x="999.5" y="1004" font-size="17" fill="#555" style="font-style:italic" >y</text>
<text x="1056" y="1079" font-size="17" fill="#555" style="font-style:italic" >x</text>
<defs><clipPath id="cei"><rect x="895.3" y="679" width="198.7" height="156.4"/></clipPath><linearGradient id="gcone" x1="0" x2="1"><stop offset="0" stop-color="#9a9a9a"/><stop offset="0.35" stop-color="#dcdcdc"/><stop offset="0.7" stop-color="#b8b8b8"/><stop offset="1" stop-color="#8a8a8a"/></linearGradient><radialGradient id="gdome" cx="0.5" cy="0.25" r="0.62"><stop offset="0" stop-color="#ffffff"/><stop offset="0.55" stop-color="#f0f0f0"/><stop offset="0.8" stop-color="#c8c8c8"/><stop offset="1" stop-color="#909090"/></radialGradient><linearGradient id="gslab" x1="0" y1="0" x2="0" y2="1"><stop offset="0" stop-color="#4a3a8a"/><stop offset="1" stop-color="#6a4aa0"/></linearGradient></defs>
<g clip-path="url(#cei)">
<rect x="895.3" y="679" width="198.7" height="156.4" fill="#060606"/>
<polygon points="894.9,679 1027,679 981,714 939.7,713.4 894.9,688.5" fill="url(#gcone)"/>
<path d="M900,690 Q961,700 1022,690" stroke="#f0f0f0" stroke-width="1.2" fill="none" opacity="0.8"/>
<text x="961" y="685.5" font-size="5" fill="#eee" text-anchor="middle" >Read channel</text>
<ellipse cx="961" cy="710" rx="12" ry="8" fill="#f08080"/>
<polygon points="941.5,713.5 979.5,713.5 977,733 949,737" fill="#e80c0c"/>
<polygon points="903.6,789.4 1037.3,796.9 1037.3,811 903.6,803" fill="#2a3aa0"/>
<polygon points="938.3,736.5 1033.5,736.5 1037.3,796.9 903.6,789.4" fill="url(#gslab)"/>
<rect x="939.94" y="739.21" width="4" height="2.2" fill="#ff5a7a" opacity="0.85"/>
<rect x="935.33" y="746.84" width="4" height="2.2" fill="#c8c8e8" opacity="0.85"/>
<rect x="930.72" y="754.46" width="4" height="2.2" fill="#ff5a7a" opacity="0.85"/>
<rect x="926.1" y="762.08" width="4" height="2.2" fill="#c8c8e8" opacity="0.85"/>
<rect x="921.49" y="769.71" width="4" height="2.2" fill="#ff5a7a" opacity="0.85"/>
<rect x="916.88" y="777.33" width="4" height="2.2" fill="#c8c8e8" opacity="0.85"/>
<rect x="912.26" y="784.96" width="4" height="2.2" fill="#ff5a7a" opacity="0.85"/>
<rect x="952.19" y="739.28" width="4" height="2.2" fill="#c8c8e8" opacity="0.85"/>
<rect x="948.26" y="747.04" width="4" height="2.2" fill="#ff5a7a" opacity="0.85"/>
<rect x="944.34" y="754.8" width="4" height="2.2" fill="#c8c8e8" opacity="0.85"/>
<rect x="940.41" y="762.55" width="4" height="2.2" fill="#ff5a7a" opacity="0.85"/>
<rect x="936.48" y="770.31" width="4" height="2.2" fill="#c8c8e8" opacity="0.85"/>
<rect x="932.56" y="778.07" width="4" height="2.2" fill="#ff5a7a" opacity="0.85"/>
<rect x="928.63" y="785.83" width="4" height="2.2" fill="#c8c8e8" opacity="0.85"/>
<rect x="964.43" y="739.35" width="4" height="2.2" fill="#ff5a7a" opacity="0.85"/>
<rect x="961.19" y="747.24" width="4" height="2.2" fill="#c8c8e8" opacity="0.85"/>
<rect x="957.95" y="755.13" width="4" height="2.2" fill="#ff5a7a" opacity="0.85"/>
<rect x="954.72" y="763.02" width="4" height="2.2" fill="#c8c8e8" opacity="0.85"/>
<rect x="951.48" y="770.91" width="4" height="2.2" fill="#ff5a7a" opacity="0.85"/>
<rect x="948.24" y="778.81" width="4" height="2.2" fill="#c8c8e8" opacity="0.85"/>
<rect x="945" y="786.7" width="4" height="2.2" fill="#ff5a7a" opacity="0.85"/>
<rect x="976.67" y="739.41" width="4" height="2.2" fill="#c8c8e8" opacity="0.85"/>
<rect x="974.12" y="747.44" width="4" height="2.2" fill="#ff5a7a" opacity="0.85"/>
<rect x="971.57" y="755.46" width="4" height="2.2" fill="#c8c8e8" opacity="0.85"/>
<rect x="969.02" y="763.49" width="4" height="2.2" fill="#ff5a7a" opacity="0.85"/>
<rect x="966.47" y="771.52" width="4" height="2.2" fill="#c8c8e8" opacity="0.85"/>
<rect x="963.92" y="779.54" width="4" height="2.2" fill="#ff5a7a" opacity="0.85"/>
<rect x="961.37" y="787.57" width="4" height="2.2" fill="#c8c8e8" opacity="0.85"/>
<rect x="988.92" y="739.48" width="4" height="2.2" fill="#ff5a7a" opacity="0.85"/>
<rect x="987.05" y="747.64" width="4" height="2.2" fill="#c8c8e8" opacity="0.85"/>
<rect x="985.19" y="755.8" width="4" height="2.2" fill="#ff5a7a" opacity="0.85"/>
<rect x="983.33" y="763.96" width="4" height="2.2" fill="#c8c8e8" opacity="0.85"/>
<rect x="981.46" y="772.12" width="4" height="2.2" fill="#ff5a7a" opacity="0.85"/>
<rect x="979.6" y="780.28" width="4" height="2.2" fill="#c8c8e8" opacity="0.85"/>
<rect x="977.74" y="788.44" width="4" height="2.2" fill="#ff5a7a" opacity="0.85"/>
<rect x="1001.16" y="739.55" width="4" height="2.2" fill="#c8c8e8" opacity="0.85"/>
<rect x="999.99" y="747.84" width="4" height="2.2" fill="#ff5a7a" opacity="0.85"/>
<rect x="998.81" y="756.13" width="4" height="2.2" fill="#c8c8e8" opacity="0.85"/>
<rect x="997.63" y="764.43" width="4" height="2.2" fill="#ff5a7a" opacity="0.85"/>
<rect x="996.46" y="772.72" width="4" height="2.2" fill="#c8c8e8" opacity="0.85"/>
<rect x="995.28" y="781.02" width="4" height="2.2" fill="#ff5a7a" opacity="0.85"/>
<rect x="994.11" y="789.31" width="4" height="2.2" fill="#c8c8e8" opacity="0.85"/>
<rect x="1013.41" y="739.61" width="4" height="2.2" fill="#ff5a7a" opacity="0.85"/>
<rect x="1012.92" y="748.04" width="4" height="2.2" fill="#c8c8e8" opacity="0.85"/>
<rect x="1012.43" y="756.47" width="4" height="2.2" fill="#ff5a7a" opacity="0.85"/>
<rect x="1011.94" y="764.9" width="4" height="2.2" fill="#c8c8e8" opacity="0.85"/>
<rect x="1011.45" y="773.32" width="4" height="2.2" fill="#ff5a7a" opacity="0.85"/>
<rect x="1010.96" y="781.75" width="4" height="2.2" fill="#c8c8e8" opacity="0.85"/>
<rect x="1010.48" y="790.18" width="4" height="2.2" fill="#ff5a7a" opacity="0.85"/>
<rect x="1025.65" y="739.68" width="4" height="2.2" fill="#c8c8e8" opacity="0.85"/>
<rect x="1025.85" y="748.24" width="4" height="2.2" fill="#ff5a7a" opacity="0.85"/>
<rect x="1026.05" y="756.8" width="4" height="2.2" fill="#c8c8e8" opacity="0.85"/>
<rect x="1026.25" y="765.37" width="4" height="2.2" fill="#ff5a7a" opacity="0.85"/>
<rect x="1026.45" y="773.93" width="4" height="2.2" fill="#c8c8e8" opacity="0.85"/>
<rect x="1026.65" y="782.49" width="4" height="2.2" fill="#ff5a7a" opacity="0.85"/>
<rect x="1026.84" y="791.05" width="4" height="2.2" fill="#c8c8e8" opacity="0.85"/>
<ellipse cx="989" cy="770" rx="9" ry="26" fill="#c8c8ff" opacity="0.35" filter="url(#blur2)"/>
<polygon points="945,735 975,735 962,760 950,760" fill="#ff3040" opacity="0.35"/>
<text x="907" y="787" font-size="4.5" fill="#ddd" >Phase change pattern</text>
<path d="M1008,786 H1022" stroke="#f0c020" stroke-width="1"/>
<text x="1008" y="794" font-size="4.5" fill="#ddd" >0.4 μm</text>
<ellipse cx="990" cy="872" rx="69" ry="70" fill="url(#gdome)"/>
<ellipse cx="991" cy="815.8" rx="24" ry="16" fill="#8a8ab0"/>
<ellipse cx="991" cy="815.8" rx="21" ry="14.5" fill="#2838a8"/>
<rect x="978" y="790" width="26" height="14" fill="#4050c0" opacity="0.45"/>
<text x="991" y="817.5" font-size="4.5" fill="#ddd" text-anchor="middle" >Write channel</text>
<rect x="1035" y="697.3" width="39" height="8.5" fill="#3450c0"/>
<text x="1054.5" y="703.3" font-size="4.6" fill="#e8e8f0" text-anchor="middle" >ZnS-SiO₂</text>
<rect x="1035" y="707.2" width="44" height="8.5" fill="#5a3a9a"/>
<text x="1057" y="713.2" font-size="4.6" fill="#e8e8f0" text-anchor="middle" >Ge₂Sb₂Te₅</text>
<rect x="1039.6" y="717.8" width="44.5" height="8.5" fill="#3450c0"/>
<text x="1061.85" y="723.8" font-size="4.6" fill="#e8e8f0" text-anchor="middle" >ZnS-SiO₂</text>
<rect x="1042.6" y="728.4" width="47" height="8.5" fill="#3450c0"/>
<text x="1066.1" y="734.4" font-size="4.6" fill="#e8e8f0" text-anchor="middle" >Glass substrate</text>
</g>
<text x="1176.8" y="668.4" font-size="42" fill="#000" font-weight="bold" >F</text>
<polygon points="1179,745.2 1350.2,798.5 1345,855 1189.2,787.9" fill="#5c4874"/>
<polygon points="1350.2,785.8 1404.6,701.5 1396.5,757.3 1345,855" fill="#9d88c8"/>
<polygon points="1178.5,733.5 1350.2,786.8 1350.2,798.5 1179,745.2" fill="#8a9c44"/>
<polygon points="1404.6,702.5 1404.6,708.5 1403.1,710 1403.6,705.5" fill="#a8b858"/>
<defs><linearGradient id="gfb1" gradientUnits="userSpaceOnUse" x1="1273.5" y1="677.4" x2="1350.2" y2="786.8"><stop offset="0" stop-color="#c4d87a"/><stop offset="1" stop-color="#cfe07e"/></linearGradient></defs>
<polygon points="1178.5,733.5 1273.5,677.4 1404.6,702.5 1350.2,786.8" fill="url(#gfb1)"/>
<path d="M1292.7,690.5 L1287,749 L1340.7,696.5" stroke="#c4e6f2" stroke-width="10.5" stroke-linecap="round" stroke-linejoin="round" fill="none"/>
<defs><linearGradient id="glas" x1="0" x2="1"><stop offset="0" stop-color="#8a8a8a"/><stop offset="0.4" stop-color="#e0e0e0"/><stop offset="1" stop-color="#7a7a7a"/></linearGradient><linearGradient id="gpink" x1="0" x2="1"><stop offset="0" stop-color="#e88890"/><stop offset="0.5" stop-color="#f6b8bc"/><stop offset="1" stop-color="#e07880"/></linearGradient></defs>
<rect x="1331" y="645" width="26.7" height="11" fill="url(#glas)"/>
<polygon points="1331,656 1357.7,656 1353,660.5 1335.5,660.5" fill="url(#glas)"/>
<polygon points="1337.5,660.5 1351,660.5 1347.5,692 1340.5,692" fill="url(#gpink)"/>
<ellipse cx="1344" cy="691" rx="4.2" ry="3" fill="#e02828"/>
<text x="1354.5" y="675.9" font-size="13.5" fill="#111" textLength="42.7" lengthAdjust="spacingAndGlyphs" >ns laser</text>
<text transform="translate(1298,734.5) rotate(-90)" font-size="13" fill="#111" textLength="36.2" lengthAdjust="spacingAndGlyphs">c-GST</text>
<text transform="translate(1212.7,738) rotate(13)" font-size="13" fill="#111" textLength="37" lengthAdjust="spacingAndGlyphs">a-GST</text>
<text transform="translate(1207.5,789) rotate(13)" font-size="18.5" fill="#fff" textLength="49" lengthAdjust="spacingAndGlyphs" >Quartz</text>
<polygon points="1434.4,756.6 1603.9,806.7 1598.4,865 1445.6,803.8" fill="#5c4874"/>
<polygon points="1603.9,793.2 1656.8,711.1 1649,767.3 1598.4,865" fill="#9d88c8"/>
<polygon points="1433.9,744.1 1603.9,794.2 1603.9,806.7 1434.4,756.6" fill="#8a9c44"/>
<polygon points="1656.8,712.1 1656.8,718.1 1655.3,719.6 1655.8,715.1" fill="#a8b858"/>
<defs><linearGradient id="gfb2" gradientUnits="userSpaceOnUse" x1="1524.5" y1="689.7" x2="1603.9" y2="794.2"><stop offset="0" stop-color="#c4d87a"/><stop offset="1" stop-color="#cfe07e"/></linearGradient></defs>
<polygon points="1433.9,744.1 1524.5,689.7 1656.8,712.1 1603.9,794.2" fill="url(#gfb2)"/>
<path d="M1543.7,701 L1546,757 L1599.2,704" stroke="#c4e6f2" stroke-width="11.5" stroke-linecap="round" stroke-linejoin="round" fill="none"/>
<polygon points="1526,688 1531,686 1556,727 1552,730" fill="#e8d8a0" opacity="0.6"/>
<polygon points="1551.2,690.8 1598.1,664.1 1608.8,667.3 1578.9,689.7 1552.3,697.2" fill="#d0d0c8" stroke="#999" stroke-width="0.5"/>
<polygon points="1553.3,698.3 1561.9,698.3 1557.6,729.2" fill="#d8a818"/>
<polygon points="1553.3,698.3 1557,698.3 1557.6,729.2" fill="#f0d060"/>
<path d="M1557.6,662 V686" stroke="#333" stroke-width="1"/>
<polygon points="1555,664 1557.6,658.8 1560.2,664" fill="#222"/>
<polygon points="1555,684 1557.6,689 1560.2,684" fill="#222"/>
<text x="1567.5" y="682.5" font-size="11" fill="#333" style="font-style:italic" >Ω</text>
<path d="M1506.4,659.9 L1546,713" stroke="#e82020" stroke-width="1.3"/>
<polygon points="1542,712 1549.5,718 1547.5,708.5" fill="#e82020"/>
<text x="1461.6" y="681.2" font-size="13.5" fill="#111" textLength="36.3" lengthAdjust="spacingAndGlyphs" >Mid-IR</text>
<defs><linearGradient id="gcbar" x1="0" x2="1"><stop offset="0" stop-color="#000"/><stop offset="0.2" stop-color="#6a1000"/><stop offset="0.45" stop-color="#d84010"/><stop offset="0.7" stop-color="#f0a020"/><stop offset="0.88" stop-color="#f8e060"/><stop offset="1" stop-color="#ffffff"/></linearGradient><filter id="fn1" x="0" y="0" width="100%" height="100%" color-interpolation-filters="sRGB"><feTurbulence type="fractalNoise" baseFrequency="0.45" numOctaves="2" seed="4" result="t"/><feColorMatrix in="t" type="matrix" values="0 0 0 0 0.55  0 0 0 0 0.1  0 0 0 0 0.03  0 0 0 1.6 -0.72" result="n"/><feComposite in="n" in2="SourceGraphic" operator="in"/></filter><filter id="fb3" filterUnits="userSpaceOnUse" x="1150" y="880" width="627" height="245"><feGaussianBlur stdDeviation="2"/></filter><filter id="fb15" filterUnits="userSpaceOnUse" x="1150" y="880" width="627" height="245"><feGaussianBlur stdDeviation="1.2"/></filter><filter id="fb6" filterUnits="userSpaceOnUse" x="1150" y="880" width="627" height="245"><feGaussianBlur stdDeviation="7"/></filter><clipPath id="cm1"><rect x="1209.4" y="909.5" width="182" height="192.8"/></clipPath><clipPath id="cm2"><rect x="1465.5" y="909.5" width="182" height="192.8"/></clipPath></defs>
<g clip-path="url(#cm1)">
<rect x="1209.4" y="909.5" width="182" height="192.8" fill="#d83e1a"/>
<rect x="1209.4" y="909.5" width="182" height="192.8" fill="#000" filter="url(#fn1)"/>
<path d="M1234.8,905 L1250,940 L1266,975 L1293,1030 L1324.3,1100 L1334,1104 L1330.5,1000 L1326.5,905" stroke="#f0c838" stroke-width="14" fill="none" stroke-linejoin="round" filter="url(#fb15)"/>
<path d="M1234.8,905 L1266,975 L1293,1030 L1324.3,1100 M1326.5,905 L1330.5,1000 L1332,1100" stroke="#f8e078" stroke-width="6" fill="none" stroke-linejoin="round" filter="url(#fb15)"/>
</g>
<rect x="1209.4" y="909.5" width="182" height="192.8" fill="none" stroke="#c8c8c8" stroke-width="1"/>
<text x="1214.7" y="1095.7" font-size="11.5" fill="#fff" textLength="47" lengthAdjust="spacingAndGlyphs" opacity="0.75">943 cm⁻¹</text>
<g clip-path="url(#cm2)">
<rect x="1465.5" y="909.5" width="182" height="192.8" fill="#fedb46"/>
<ellipse cx="1492" cy="1030" rx="13" ry="75" fill="#fff2a8" filter="url(#fb6)"/>
<ellipse cx="1505" cy="1080" rx="12" ry="30" fill="#fff6c8" filter="url(#fb6)"/>
<ellipse cx="1636" cy="950" rx="15" ry="42" fill="#fff6d0" filter="url(#fb6)"/>
<ellipse cx="1632" cy="1060" rx="12" ry="40" fill="#fde070" filter="url(#fb6)"/>
<rect x="1606" y="905" width="18" height="200" fill="#f08a08" filter="url(#fb6)"/>
<rect x="1580" y="905" width="24" height="200" fill="#e2501a" filter="url(#fb6)"/>
<polygon points="1494,910 1577,910 1576,1075" fill="#f5a000"/>
<polygon points="1550,910 1577,910 1576,1075 1562,1000" fill="#ee8a08" opacity="0.7" filter="url(#fb3)"/>
<path d="M1489.5,921.3 L1530,1010 L1574.3,1100" stroke="#fff0b0" stroke-width="18" fill="none" stroke-linecap="round"/>
<path d="M1489.5,921.3 L1530,1010 L1574.3,1100" stroke="#4a0c00" stroke-width="14" fill="none" stroke-linecap="round"/>
<path d="M1491,924 L1530,1010 L1573,1098" stroke="#260400" stroke-width="6" fill="none" stroke-linecap="round" filter="url(#fb15)"/>
<path d="M1577,905 L1579,1105" stroke="#fff0b0" stroke-width="13" fill="none"/>
<path d="M1577,905 L1579,1105" stroke="#3a0800" stroke-width="9" fill="none"/>
</g>
<rect x="1465.5" y="909.5" width="182" height="192.8" fill="none" stroke="#c8c8c8" stroke-width="1"/>
<rect x="1583.3" y="985.4" width="27.5" height="16.5" fill="none" stroke="#fff" stroke-width="1.3"/>
<text x="1470.6" y="1095.7" font-size="11.5" fill="#706040" textLength="52" lengthAdjust="spacingAndGlyphs" opacity="0.8">1,120 cm⁻¹</text>
<rect x="1248.4" y="895.3" width="109.4" height="8.3" fill="url(#gcbar)" stroke="#bbb" stroke-width="0.8"/>
<text x="1216" y="904.5" font-size="19.5" fill="#000" textLength="27.7" lengthAdjust="spacingAndGlyphs" >0.3</text>
<text x="1361.6" y="904.5" font-size="19.5" fill="#000" textLength="27.7" lengthAdjust="spacingAndGlyphs" >0.5</text>
<text x="1290.2" y="883.6" font-size="19.5" fill="#000" >S</text>
<text x="1303.2" y="890" font-size="12" fill="#000" >3</text>
<rect x="1501.7" y="895.3" width="108.4" height="8.3" fill="url(#gcbar)" stroke="#bbb" stroke-width="0.8"/>
<text x="1467.8" y="904.5" font-size="19.5" fill="#000" textLength="27.7" lengthAdjust="spacingAndGlyphs" >3.3</text>
<text x="1614.4" y="904.5" font-size="19.5" fill="#000" textLength="27.7" lengthAdjust="spacingAndGlyphs" >9.6</text>
<text x="1542.5" y="883.6" font-size="19.5" fill="#000" >S</text>
<text x="1555.5" y="890" font-size="12" fill="#000" >3</text>
<text x="1210" y="1122.8" font-size="19" fill="#000" text-anchor="middle" >0</text>
<text x="1269" y="1122.8" font-size="19" fill="#000" text-anchor="middle" >5</text>
<text x="1332.6" y="1122.8" font-size="19" fill="#000" text-anchor="middle" >10</text>
<text x="1392.7" y="1122.8" font-size="19" fill="#000" text-anchor="middle" >15</text>
<text x="1465.5" y="1122.8" font-size="19" fill="#000" text-anchor="middle" >0</text>
<text x="1523.7" y="1122.8" font-size="19" fill="#000" text-anchor="middle" >5</text>
<text x="1587.3" y="1122.8" font-size="19" fill="#000" text-anchor="middle" >10</text>
<text x="1647.4" y="1122.8" font-size="19" fill="#000" text-anchor="middle" >15</text>
</svg></body></html>
